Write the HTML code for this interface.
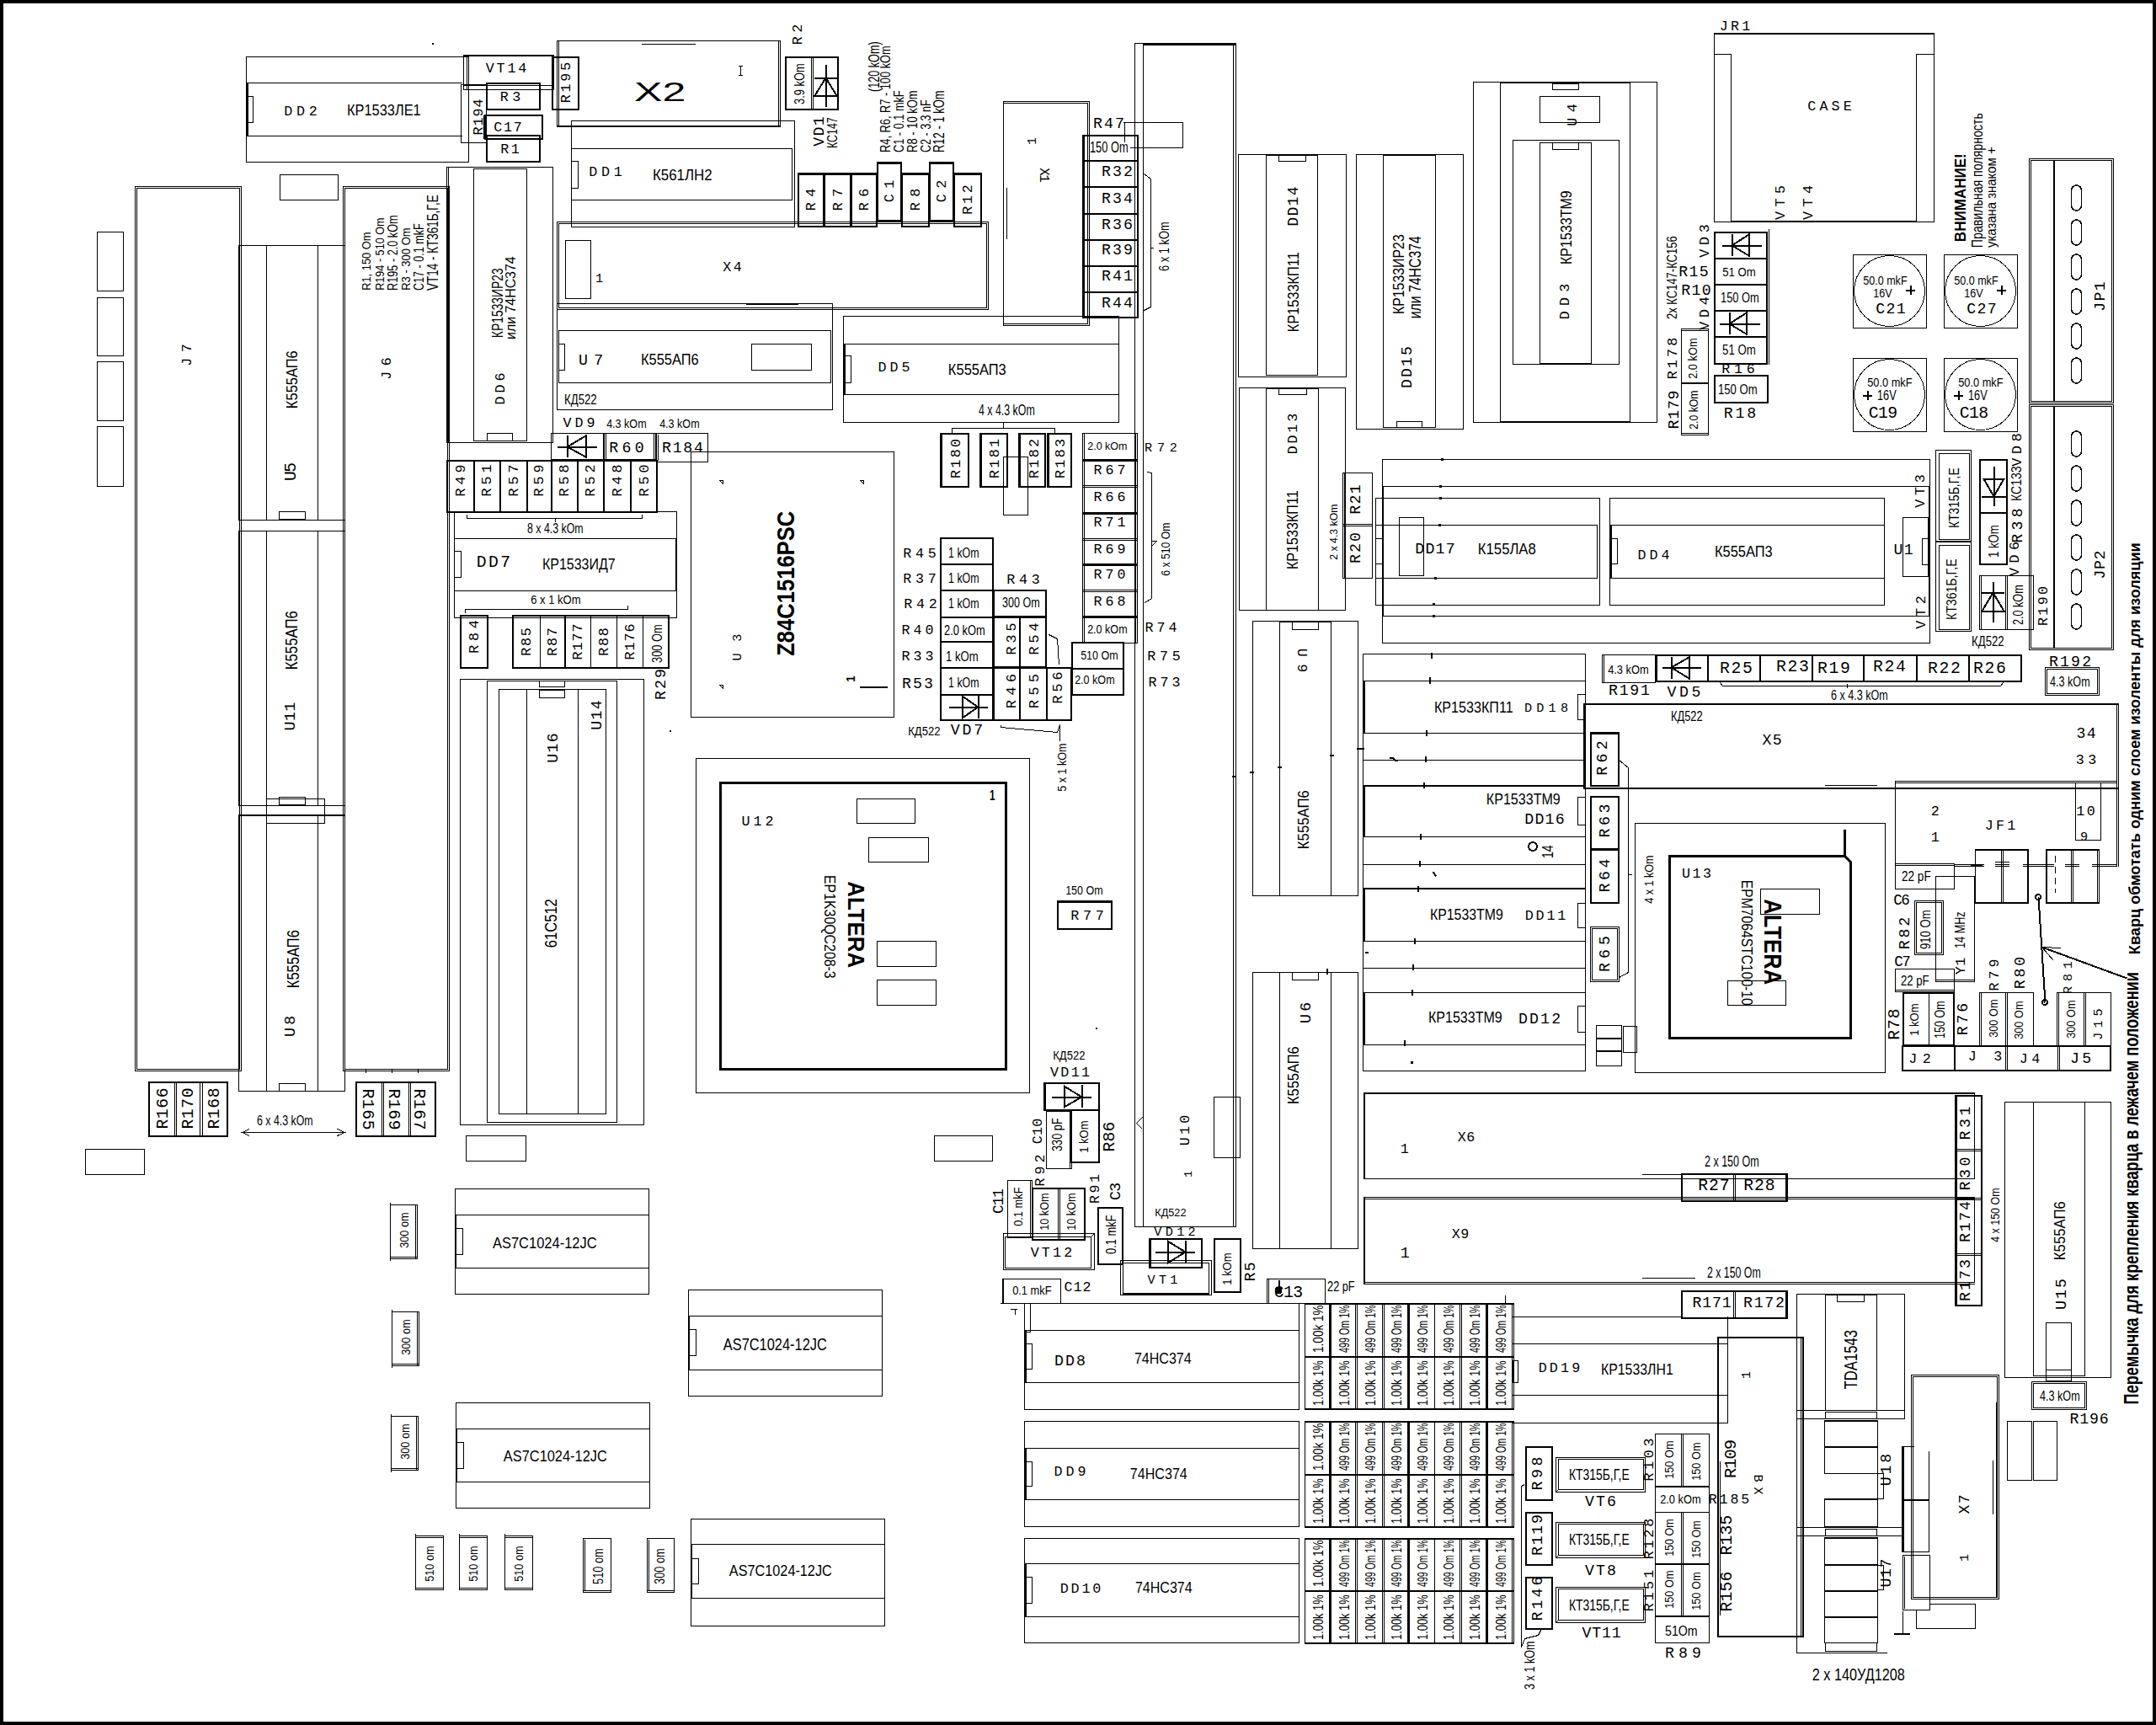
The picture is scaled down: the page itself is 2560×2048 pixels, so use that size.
<!DOCTYPE html>
<html><head><meta charset="utf-8"><style>
html,body{margin:0;padding:0;background:#fff;width:2560px;height:2048px;overflow:hidden}
svg{display:block}
text{fill:#000;stroke:none}
text.s{font-family:"Liberation Sans",sans-serif}
text.m{font-family:"Liberation Mono",monospace}
</style></head><body>
<svg width="2560" height="2048" viewBox="0 0 2560 2048">
<g fill="none" stroke="#000" stroke-width="1" shape-rendering="crispEdges">
<rect x="0" y="0" width="2560" height="4" fill="#000" stroke="none"/>
<rect x="0" y="0" width="4" height="2048" fill="#000" stroke="none"/>
<rect x="292.5" y="67.5" width="264" height="125"/>
<line x1="293" y1="98.5" x2="549" y2="98.5" stroke-width="1"/>
<line x1="293" y1="161.5" x2="549" y2="161.5" stroke-width="1"/>
<line x1="293.5" y1="98" x2="293.5" y2="162" stroke-width="2"/>
<rect x="293.5" y="114.5" width="7" height="31"/>
<text class="m" transform="translate(340,137)" x="-2.73" y="0" font-size="16.72" textLength="39.47" lengthAdjust="spacing">DD2</text>
<text class="s" transform="translate(413,137)" x="-1.05" y="0" font-size="17.47" textLength="87.75" lengthAdjust="spacingAndGlyphs">КР1533ЛЕ1</text>
<rect x="547.5" y="100.5" width="30" height="69"/>
<rect x="513" y="51" width="2" height="2" fill="#000" stroke="none"/>
<rect x="332.5" y="207.5" width="69" height="30"/>
<rect x="160.5" y="221.5" width="126" height="1050"/>
<rect x="162.5" y="223.5" width="122" height="1046"/>
<text class="m" transform="translate(227,432) rotate(-90)" x="-2.81" y="0" font-size="16.72" textLength="26.62" lengthAdjust="spacing">J7</text>
<rect x="407.5" y="221.5" width="126" height="1050"/>
<rect x="409.5" y="223.5" width="122" height="1046"/>
<text class="m" transform="translate(464,448) rotate(-90)" x="-2.81" y="0" font-size="16.72" textLength="26.62" lengthAdjust="spacing">J6</text>
<text class="s" transform="translate(440,344) rotate(-90)" x="-0.87" y="0" font-size="14.56" textLength="69.46" lengthAdjust="spacingAndGlyphs">R1, 150 Om</text>
<text class="s" transform="translate(456,344) rotate(-90)" x="-0.87" y="0" font-size="14.56" textLength="86.46" lengthAdjust="spacingAndGlyphs">R194 - 510 Om</text>
<text class="s" transform="translate(472,344) rotate(-90)" x="-0.96" y="0" font-size="16.01" textLength="89.60" lengthAdjust="spacingAndGlyphs">R195 - 2.0 kOm</text>
<text class="s" transform="translate(487,344) rotate(-90)" x="-0.87" y="0" font-size="14.56" textLength="74.46" lengthAdjust="spacingAndGlyphs">R3 - 300 Om</text>
<text class="s" transform="translate(503,344) rotate(-90)" x="-0.96" y="0" font-size="16.01" textLength="79.60" lengthAdjust="spacingAndGlyphs">C17 - 0.1 mkF</text>
<text class="s" transform="translate(520,344) rotate(-90)" x="-1.05" y="0" font-size="17.47" textLength="113.75" lengthAdjust="spacingAndGlyphs">VT14 - КТ361Б,Г,Е</text>
<rect x="115.5" y="275.5" width="31" height="70"/>
<rect x="115.5" y="353.5" width="31" height="69"/>
<rect x="115.5" y="429.5" width="31" height="70"/>
<rect x="115.5" y="506.5" width="31" height="71"/>
<rect x="283.5" y="291.5" width="126" height="326"/>
<line x1="316.5" y1="292" x2="316.5" y2="617" stroke-width="1"/>
<line x1="377.5" y1="292" x2="377.5" y2="617" stroke-width="1"/>
<rect x="331.5" y="607.5" width="31" height="9"/>
<text class="s" transform="translate(353,484) rotate(-90)" x="-1.14" y="0" font-size="18.92" textLength="68.89" lengthAdjust="spacingAndGlyphs">К555АП6</text>
<text class="m" transform="translate(351,570) rotate(-90)" x="-0.98" y="0" font-size="19.61" textLength="21.96" lengthAdjust="spacing">U5</text>
<line x1="283" y1="630.5" x2="410" y2="630.5" stroke-width="1"/>
<rect x="283.5" y="630.5" width="126" height="326"/>
<line x1="316.5" y1="631" x2="316.5" y2="956" stroke-width="1"/>
<line x1="377.5" y1="631" x2="377.5" y2="956" stroke-width="1"/>
<rect x="331.5" y="946.5" width="31" height="9"/>
<text class="s" transform="translate(353,794) rotate(-90)" x="-1.22" y="0" font-size="20.38" textLength="70.04" lengthAdjust="spacingAndGlyphs">К555АП6</text>
<text class="m" transform="translate(350,866) rotate(-90)" x="-1.46" y="0" font-size="18.24" textLength="33.92" lengthAdjust="spacing">U11</text>
<rect x="316.5" y="948.5" width="69" height="29"/>
<line x1="283" y1="967.5" x2="410" y2="967.5" stroke-width="1"/>
<rect x="283.5" y="968.5" width="126" height="327"/>
<line x1="316.5" y1="969" x2="316.5" y2="1296" stroke-width="1"/>
<line x1="377.5" y1="969" x2="377.5" y2="1296" stroke-width="1"/>
<rect x="331.5" y="1286.5" width="31" height="9"/>
<text class="s" transform="translate(355,1172) rotate(-90)" x="-1.22" y="0" font-size="20.38" textLength="69.04" lengthAdjust="spacingAndGlyphs">К555АП6</text>
<text class="m" transform="translate(350,1229) rotate(-90)" x="-2.11" y="0" font-size="18.24" textLength="25.22" lengthAdjust="spacing">U8</text>
<rect x="176.5" y="1284.5" width="94" height="65"/>
<rect x="177.5" y="1285.5" width="92" height="63"/>
<line x1="207.5" y1="1284" x2="207.5" y2="1350" stroke-width="1"/>
<line x1="209.5" y1="1284" x2="209.5" y2="1350" stroke-width="1"/>
<line x1="237.5" y1="1284" x2="237.5" y2="1350" stroke-width="1"/>
<line x1="240.5" y1="1284" x2="240.5" y2="1350" stroke-width="1"/>
<text class="m" transform="translate(199,1339) rotate(-90)" x="-1.61" y="0" font-size="19.76" textLength="49.22" lengthAdjust="spacing">R166</text>
<text class="m" transform="translate(229,1339) rotate(-90)" x="-1.61" y="0" font-size="19.76" textLength="49.22" lengthAdjust="spacing">R170</text>
<text class="m" transform="translate(260,1339) rotate(-90)" x="-1.61" y="0" font-size="19.76" textLength="49.22" lengthAdjust="spacing">R168</text>
<text class="s" transform="translate(306,1336)" x="-0.96" y="0" font-size="16.01" textLength="66.60" lengthAdjust="spacingAndGlyphs">6 x 4.3 kOm</text>
<line x1="287" y1="1344.5" x2="410" y2="1344.5" stroke-width="1"/>
<polyline points="296.5,1340.5 287.5,1344.5 296.5,1348.5" stroke-width="1"/>
<polyline points="400.5,1340.5 409.5,1344.5 400.5,1348.5" stroke-width="1"/>
<rect x="422.5" y="1284.5" width="95" height="65"/>
<rect x="423.5" y="1285.5" width="93" height="63"/>
<line x1="453.5" y1="1284" x2="453.5" y2="1350" stroke-width="1"/>
<line x1="455.5" y1="1284" x2="455.5" y2="1350" stroke-width="1"/>
<line x1="485.5" y1="1284" x2="485.5" y2="1350" stroke-width="1"/>
<line x1="487.5" y1="1284" x2="487.5" y2="1350" stroke-width="1"/>
<text class="m" transform="translate(431,1294) rotate(90)" x="-1.61" y="0" font-size="19.76" textLength="49.22" lengthAdjust="spacing">R165</text>
<text class="m" transform="translate(462,1294) rotate(90)" x="-1.61" y="0" font-size="19.76" textLength="49.22" lengthAdjust="spacing">R169</text>
<text class="m" transform="translate(492,1294) rotate(90)" x="-1.61" y="0" font-size="19.76" textLength="49.22" lengthAdjust="spacing">R167</text>
<line x1="434.5" y1="1269" x2="434.5" y2="1274" stroke-width="1"/>
<line x1="465.5" y1="1269" x2="465.5" y2="1274" stroke-width="1"/>
<line x1="496.5" y1="1269" x2="496.5" y2="1274" stroke-width="1"/>
<rect x="101.5" y="1364.5" width="70" height="30"/>
<rect x="463.5" y="1430.5" width="32" height="64"/>
<line x1="493.5" y1="1431" x2="493.5" y2="1494" stroke-width="1"/>
<line x1="464" y1="1492.5" x2="495" y2="1492.5" stroke-width="1"/>
<line x1="463.5" y1="1428" x2="463.5" y2="1497" stroke-width="1"/>
<text class="s" transform="translate(485,1481) rotate(-90)" x="-0.87" y="0" font-size="14.56" textLength="42.46" lengthAdjust="spacingAndGlyphs">300 om</text>
<rect x="465.5" y="1557.5" width="32" height="64"/>
<line x1="495.5" y1="1558" x2="495.5" y2="1621" stroke-width="1"/>
<line x1="466" y1="1619.5" x2="497" y2="1619.5" stroke-width="1"/>
<line x1="465.5" y1="1555" x2="465.5" y2="1624" stroke-width="1"/>
<text class="s" transform="translate(487,1608) rotate(-90)" x="-0.87" y="0" font-size="14.56" textLength="42.46" lengthAdjust="spacingAndGlyphs">300 om</text>
<rect x="464.5" y="1681.5" width="32" height="64"/>
<line x1="494.5" y1="1682" x2="494.5" y2="1745" stroke-width="1"/>
<line x1="465" y1="1743.5" x2="496" y2="1743.5" stroke-width="1"/>
<line x1="464.5" y1="1679" x2="464.5" y2="1748" stroke-width="1"/>
<text class="s" transform="translate(486,1732) rotate(-90)" x="-0.87" y="0" font-size="14.56" textLength="42.46" lengthAdjust="spacingAndGlyphs">300 om</text>
<rect x="493.5" y="1823.5" width="33" height="64"/>
<line x1="494" y1="1825.5" x2="526" y2="1825.5" stroke-width="1"/>
<line x1="494" y1="1885.5" x2="526" y2="1885.5" stroke-width="1"/>
<line x1="493.5" y1="1821" x2="493.5" y2="1888" stroke-width="1"/>
<text class="s" transform="translate(515,1877) rotate(-90)" x="-0.87" y="0" font-size="14.56" textLength="42.46" lengthAdjust="spacingAndGlyphs">510 om</text>
<rect x="545.5" y="1823.5" width="33" height="64"/>
<line x1="546" y1="1825.5" x2="578" y2="1825.5" stroke-width="1"/>
<line x1="546" y1="1885.5" x2="578" y2="1885.5" stroke-width="1"/>
<line x1="545.5" y1="1821" x2="545.5" y2="1888" stroke-width="1"/>
<text class="s" transform="translate(567,1877) rotate(-90)" x="-0.87" y="0" font-size="14.56" textLength="42.46" lengthAdjust="spacingAndGlyphs">510 om</text>
<rect x="599.5" y="1823.5" width="33" height="64"/>
<line x1="600" y1="1825.5" x2="632" y2="1825.5" stroke-width="1"/>
<line x1="600" y1="1885.5" x2="632" y2="1885.5" stroke-width="1"/>
<line x1="599.5" y1="1821" x2="599.5" y2="1888" stroke-width="1"/>
<text class="s" transform="translate(621,1877) rotate(-90)" x="-0.87" y="0" font-size="14.56" textLength="42.46" lengthAdjust="spacingAndGlyphs">510 om</text>
<line x1="550" y1="65.5" x2="658" y2="65.5" stroke-width="2"/>
<line x1="550.5" y1="65" x2="550.5" y2="107" stroke-width="1"/>
<line x1="554.5" y1="66" x2="554.5" y2="107" stroke-width="1"/>
<line x1="657.5" y1="65" x2="657.5" y2="107" stroke-width="1"/>
<line x1="550" y1="101.5" x2="658" y2="101.5" stroke-width="1"/>
<line x1="550" y1="106.5" x2="658" y2="106.5" stroke-width="1"/>
<text class="m" transform="translate(579,86)" x="-2.21" y="0" font-size="16.72" textLength="48.41" lengthAdjust="spacing">VT14</text>
<rect x="578.0" y="99.0" width="63" height="31" stroke-width="2"/>
<line x1="578.5" y1="99" x2="578.5" y2="130" stroke-width="1"/>
<text class="m" transform="translate(596,120)" x="-2.31" y="0" font-size="16.72" textLength="24.62" lengthAdjust="spacing">R3</text>
<rect x="576.0" y="137.0" width="68" height="28" stroke-width="2"/>
<line x1="574.5" y1="137" x2="574.5" y2="165" stroke-width="1"/>
<text class="m" transform="translate(588,156)" x="-1.73" y="0" font-size="16.72" textLength="33.47" lengthAdjust="spacing">C17</text>
<rect x="578.0" y="161.0" width="63" height="31" stroke-width="2"/>
<line x1="578.5" y1="161" x2="578.5" y2="192" stroke-width="1"/>
<text class="m" transform="translate(596,182)" x="-1.81" y="0" font-size="16.72" textLength="22.62" lengthAdjust="spacing">R1</text>
<text class="m" transform="translate(573,159) rotate(-90)" x="-1.54" y="0" font-size="16.72" textLength="43.08" lengthAdjust="spacing">R194</text>
<rect x="656.0" y="68.0" width="31" height="62" stroke-width="2"/>
<line x1="656.5" y1="68" x2="656.5" y2="130" stroke-width="1"/>
<text class="m" transform="translate(677,120) rotate(-90)" x="-2.21" y="0" font-size="16.72" textLength="48.41" lengthAdjust="spacing">R195</text>
<rect x="661.5" y="48.5" width="265" height="102"/>
<line x1="663.5" y1="49" x2="663.5" y2="150" stroke-width="1"/>
<line x1="924.5" y1="49" x2="924.5" y2="150" stroke-width="1"/>
<line x1="661" y1="149.5" x2="927" y2="149.5" stroke-width="1"/>
<line x1="762" y1="52.5" x2="826" y2="52.5" stroke-width="1"/>
<text class="s" transform="translate(755,120)" x="-1.92" y="0" font-size="32.02" textLength="61.20" lengthAdjust="spacingAndGlyphs">X2</text>
<line x1="879.5" y1="78" x2="879.5" y2="90" stroke-width="1"/>
<line x1="877" y1="78.5" x2="882" y2="78.5" stroke-width="1"/>
<line x1="877" y1="89.5" x2="882" y2="89.5" stroke-width="1"/>
<rect x="933.0" y="68.0" width="62" height="62" stroke-width="2"/>
<line x1="963.5" y1="67" x2="963.5" y2="131" stroke-width="1"/>
<line x1="965.5" y1="67" x2="965.5" y2="131" stroke-width="1"/>
<text class="s" transform="translate(955,123) rotate(-90)" x="-0.96" y="0" font-size="16.01" textLength="48.60" lengthAdjust="spacingAndGlyphs">3.9 kOm</text>
<line x1="980.5" y1="77" x2="980.5" y2="127" stroke-width="2"/>
<line x1="967" y1="92.5" x2="994" y2="92.5" stroke-width="2"/>
<polygon points="967.5,113.5 993.5,113.5 980.5,92.5" stroke-width="2"/>
<text class="m" transform="translate(952,51) rotate(-90)" x="-2.31" y="0" font-size="16.72" textLength="24.62" lengthAdjust="spacing">R2</text>
<text class="m" transform="translate(978,172) rotate(-90)" x="-1.71" y="0" font-size="18.24" textLength="35.42" lengthAdjust="spacing">VD1</text>
<text class="s" transform="translate(994,175) rotate(-90)" x="-0.96" y="0" font-size="16.01" textLength="36.60" lengthAdjust="spacingAndGlyphs">КС147</text>
<text class="s" transform="translate(1044,108) rotate(-90)" x="-1.05" y="0" font-size="17.47" textLength="59.75" lengthAdjust="spacingAndGlyphs">(120 kOm)</text>
<text class="s" transform="translate(1057,180) rotate(-90)" x="-0.96" y="0" font-size="16.01" textLength="126.60" lengthAdjust="spacingAndGlyphs">R4, R6, R7 - 100 kOm</text>
<text class="s" transform="translate(1073,180) rotate(-90)" x="-0.96" y="0" font-size="16.01" textLength="73.60" lengthAdjust="spacingAndGlyphs">C1 - 0.1 mkF</text>
<text class="s" transform="translate(1089,180) rotate(-90)" x="-0.96" y="0" font-size="16.01" textLength="73.60" lengthAdjust="spacingAndGlyphs">R8 - 10 kOm</text>
<text class="s" transform="translate(1105,180) rotate(-90)" x="-0.96" y="0" font-size="16.01" textLength="62.60" lengthAdjust="spacingAndGlyphs">C2 - 3.3 nF</text>
<text class="s" transform="translate(1121,180) rotate(-90)" x="-1.05" y="0" font-size="17.47" textLength="73.75" lengthAdjust="spacingAndGlyphs">R12 - 1 kOm</text>
<rect x="678.5" y="143.5" width="265" height="126"/>
<line x1="679" y1="176.5" x2="941" y2="176.5" stroke-width="1"/>
<line x1="679" y1="237.5" x2="941" y2="237.5" stroke-width="1"/>
<line x1="940.5" y1="176" x2="940.5" y2="238" stroke-width="1"/>
<rect x="678.5" y="191.5" width="8" height="32"/>
<text class="m" transform="translate(702,209)" x="-2.73" y="0" font-size="16.72" textLength="39.47" lengthAdjust="spacing">DD1</text>
<text class="s" transform="translate(776,214)" x="-1.05" y="0" font-size="17.47" textLength="70.75" lengthAdjust="spacingAndGlyphs">К561ЛН2</text>
<rect x="948.0" y="206.0" width="30" height="63" stroke-width="2"/>
<line x1="949" y1="207.5" x2="977" y2="207.5" stroke-width="1"/>
<text class="m" transform="translate(968.0,247.5) rotate(-90)" x="-2.81" y="0" font-size="16.72" textLength="26.62" lengthAdjust="spacing">R4</text>
<rect x="979.0" y="206.0" width="31" height="63" stroke-width="2"/>
<line x1="980" y1="207.5" x2="1009" y2="207.5" stroke-width="1"/>
<text class="m" transform="translate(999.5,247.5) rotate(-90)" x="-2.81" y="0" font-size="16.72" textLength="26.62" lengthAdjust="spacing">R7</text>
<rect x="1011.0" y="206.0" width="30" height="63" stroke-width="2"/>
<line x1="1012" y1="207.5" x2="1040" y2="207.5" stroke-width="1"/>
<text class="m" transform="translate(1031.0,247.5) rotate(-90)" x="-2.81" y="0" font-size="16.72" textLength="26.62" lengthAdjust="spacing">R6</text>
<rect x="1042.0" y="193.0" width="28" height="69" stroke-width="2"/>
<line x1="1043" y1="194.5" x2="1069" y2="194.5" stroke-width="1"/>
<text class="m" transform="translate(1061.0,237.5) rotate(-90)" x="-2.81" y="0" font-size="16.72" textLength="26.62" lengthAdjust="spacing">C1</text>
<rect x="1071.0" y="206.0" width="32" height="63" stroke-width="2"/>
<line x1="1072" y1="207.5" x2="1102" y2="207.5" stroke-width="1"/>
<text class="m" transform="translate(1092.0,247.5) rotate(-90)" x="-2.81" y="0" font-size="16.72" textLength="26.62" lengthAdjust="spacing">R8</text>
<rect x="1104.0" y="193.0" width="28" height="69" stroke-width="2"/>
<line x1="1105" y1="194.5" x2="1131" y2="194.5" stroke-width="1"/>
<text class="m" transform="translate(1123.0,237.5) rotate(-90)" x="-2.81" y="0" font-size="16.72" textLength="26.62" lengthAdjust="spacing">C2</text>
<rect x="1133.0" y="206.0" width="32" height="63" stroke-width="2"/>
<line x1="1134" y1="207.5" x2="1164" y2="207.5" stroke-width="1"/>
<text class="m" transform="translate(1154.0,252.75) rotate(-90)" x="-2.11" y="0" font-size="16.72" textLength="35.72" lengthAdjust="spacing">R12</text>
<rect x="661.5" y="263.5" width="512" height="104"/>
<rect x="663.5" y="265.5" width="508" height="100"/>
<rect x="671.5" y="285.5" width="30" height="69"/>
<text class="m" transform="translate(708,335)" x="-1.06" y="0" font-size="15.20" textLength="9.12" lengthAdjust="spacing">1</text>
<text class="m" transform="translate(860,322)" x="-1.81" y="0" font-size="16.72" textLength="22.62" lengthAdjust="spacing">X4</text>
<rect x="661.5" y="360.5" width="327" height="126"/>
<rect x="663.5" y="392.5" width="323" height="62"/>
<rect x="663.5" y="408.5" width="7" height="31"/>
<rect x="892.5" y="408.5" width="71" height="31"/>
<line x1="886" y1="360.5" x2="948" y2="360.5" stroke-width="2"/>
<text class="m" transform="translate(690,433)" x="-3.11" y="0" font-size="18.24" textLength="29.22" lengthAdjust="spacing">U7</text>
<text class="s" transform="translate(762,433)" x="-1.05" y="0" font-size="17.47" textLength="68.75" lengthAdjust="spacingAndGlyphs">К555АП6</text>
<text class="s" transform="translate(671,480)" x="-0.96" y="0" font-size="16.01" textLength="38.60" lengthAdjust="spacingAndGlyphs">КД522</text>
<rect x="530.5" y="198.5" width="126" height="327"/>
<line x1="532.5" y1="199" x2="532.5" y2="525" stroke-width="1"/>
<rect x="562.5" y="200.5" width="63" height="323"/>
<rect x="578.5" y="514.5" width="30" height="9"/>
<text class="s" transform="translate(597,400) rotate(-90)" x="-1.14" y="0" font-size="18.92" textLength="82.89" lengthAdjust="spacingAndGlyphs">КР1533ИР23</text>
<text class="s" transform="translate(612,402) rotate(-90)" x="-0.96" y="0" font-size="16.01" textLength="98.60" lengthAdjust="spacingAndGlyphs">или 74НС374</text>
<text class="m" transform="translate(599,478) rotate(-90)" x="-2.48" y="0" font-size="16.72" textLength="37.97" lengthAdjust="spacing">DD6</text>
<text class="m" transform="translate(671,507)" x="-2.48" y="0" font-size="16.72" textLength="37.97" lengthAdjust="spacing">VD9</text>
<text class="s" transform="translate(721,508)" x="-0.87" y="0" font-size="14.56" textLength="47.46" lengthAdjust="spacingAndGlyphs">4.3 kOm</text>
<text class="s" transform="translate(784,508)" x="-0.87" y="0" font-size="14.56" textLength="47.46" lengthAdjust="spacingAndGlyphs">4.3 kOm</text>
<rect x="654.5" y="514.5" width="62" height="31"/>
<line x1="662" y1="530.5" x2="709" y2="530.5" stroke-width="2"/>
<line x1="673.5" y1="517" x2="673.5" y2="543" stroke-width="2"/>
<polygon points="695.5,517.5 695.5,542.5 673.5,530.5" stroke-width="2"/>
<rect x="717.5" y="514.5" width="61" height="31"/>
<line x1="719.5" y1="514" x2="719.5" y2="546" stroke-width="1"/>
<line x1="776.5" y1="514" x2="776.5" y2="546" stroke-width="1"/>
<text class="m" transform="translate(726,537)" x="-2.71" y="0" font-size="18.24" textLength="41.42" lengthAdjust="spacing">R60</text>
<rect x="779.5" y="514.5" width="61" height="34"/>
<line x1="781.5" y1="516" x2="781.5" y2="547" stroke-width="1"/>
<text class="m" transform="translate(788,537)" x="-1.91" y="0" font-size="18.24" textLength="48.81" lengthAdjust="spacing">R184</text>
<rect x="531.0" y="547.0" width="249" height="61" stroke-width="2"/>
<line x1="562.5" y1="546" x2="562.5" y2="609" stroke-width="2"/>
<line x1="593.5" y1="546" x2="593.5" y2="609" stroke-width="2"/>
<line x1="625.5" y1="546" x2="625.5" y2="609" stroke-width="2"/>
<line x1="654.5" y1="546" x2="654.5" y2="609" stroke-width="2"/>
<line x1="685.5" y1="546" x2="685.5" y2="609" stroke-width="2"/>
<line x1="716.5" y1="546" x2="716.5" y2="609" stroke-width="2"/>
<line x1="748.5" y1="546" x2="748.5" y2="609" stroke-width="2"/>
<text class="m" transform="translate(551.5,587) rotate(-90)" x="-2.48" y="0" font-size="16.72" textLength="37.97" lengthAdjust="spacing">R49</text>
<text class="m" transform="translate(583.0,587) rotate(-90)" x="-2.48" y="0" font-size="16.72" textLength="37.97" lengthAdjust="spacing">R51</text>
<text class="m" transform="translate(614.5,587) rotate(-90)" x="-2.48" y="0" font-size="16.72" textLength="37.97" lengthAdjust="spacing">R57</text>
<text class="m" transform="translate(645.0,587) rotate(-90)" x="-2.48" y="0" font-size="16.72" textLength="37.97" lengthAdjust="spacing">R59</text>
<text class="m" transform="translate(675.0,587) rotate(-90)" x="-2.48" y="0" font-size="16.72" textLength="37.97" lengthAdjust="spacing">R58</text>
<text class="m" transform="translate(706.0,587) rotate(-90)" x="-2.48" y="0" font-size="16.72" textLength="37.97" lengthAdjust="spacing">R52</text>
<text class="m" transform="translate(737.5,587) rotate(-90)" x="-2.48" y="0" font-size="16.72" textLength="37.97" lengthAdjust="spacing">R48</text>
<text class="m" transform="translate(769.5,587) rotate(-90)" x="-2.48" y="0" font-size="16.72" textLength="37.97" lengthAdjust="spacing">R50</text>
<line x1="554" y1="615.5" x2="763" y2="615.5" stroke-width="1"/>
<line x1="554.5" y1="611" x2="554.5" y2="616" stroke-width="1"/>
<line x1="762.5" y1="611" x2="762.5" y2="616" stroke-width="1"/>
<line x1="659.5" y1="615" x2="659.5" y2="620" stroke-width="1"/>
<text class="s" transform="translate(627,633)" x="-0.96" y="0" font-size="16.01" textLength="66.60" lengthAdjust="spacingAndGlyphs">8 x 4.3 kOm</text>
<rect x="539.5" y="607.5" width="264" height="126"/>
<rect x="539.5" y="639.5" width="263" height="62"/>
<rect x="539.5" y="654.5" width="8" height="31"/>
<text class="m" transform="translate(568,673)" x="-2.18" y="0" font-size="19.76" textLength="40.37" lengthAdjust="spacing">DD7</text>
<text class="s" transform="translate(645,676)" x="-1.05" y="0" font-size="17.47" textLength="86.75" lengthAdjust="spacingAndGlyphs">КР1533ИД7</text>
<text class="s" transform="translate(631,717)" x="-0.87" y="0" font-size="14.56" textLength="59.46" lengthAdjust="spacingAndGlyphs">6 x 1 kOm</text>
<line x1="552" y1="723.5" x2="746" y2="723.5" stroke-width="1"/>
<line x1="552.5" y1="723" x2="552.5" y2="728" stroke-width="1"/>
<line x1="745.5" y1="719" x2="745.5" y2="724" stroke-width="1"/>
<rect x="547.0" y="731.0" width="32" height="62" stroke-width="2"/>
<text class="m" transform="translate(568,773) rotate(-90)" x="-2.73" y="0" font-size="16.72" textLength="39.47" lengthAdjust="spacing">R84</text>
<rect x="609.0" y="731.0" width="185" height="62" stroke-width="2"/>
<line x1="641.5" y1="730" x2="641.5" y2="794" stroke-width="1"/>
<line x1="670.5" y1="730" x2="670.5" y2="794" stroke-width="2"/>
<line x1="701.5" y1="730" x2="701.5" y2="794" stroke-width="1"/>
<line x1="732.5" y1="730" x2="732.5" y2="794" stroke-width="1"/>
<line x1="763.5" y1="730" x2="763.5" y2="794" stroke-width="1"/>
<text class="m" transform="translate(630.0,777.0) rotate(-90)" x="-1.73" y="0" font-size="16.72" textLength="33.47" lengthAdjust="spacing">R85</text>
<text class="m" transform="translate(661.0,777.0) rotate(-90)" x="-1.73" y="0" font-size="16.72" textLength="33.47" lengthAdjust="spacing">R87</text>
<text class="m" transform="translate(691.0,782.0) rotate(-90)" x="-1.54" y="0" font-size="16.72" textLength="43.08" lengthAdjust="spacing">R177</text>
<text class="m" transform="translate(722.0,777.0) rotate(-90)" x="-1.73" y="0" font-size="16.72" textLength="33.47" lengthAdjust="spacing">R88</text>
<text class="m" transform="translate(753.0,782.0) rotate(-90)" x="-1.54" y="0" font-size="16.72" textLength="43.08" lengthAdjust="spacing">R176</text>
<text class="s" transform="translate(786,786) rotate(-90)" x="-0.96" y="0" font-size="16.01" textLength="45.60" lengthAdjust="spacingAndGlyphs">300 Om</text>
<text class="m" transform="translate(790,829) rotate(-90)" x="-1.96" y="0" font-size="18.24" textLength="36.92" lengthAdjust="spacing">R29</text>
<rect x="546.5" y="806.5" width="218" height="529"/>
<rect x="578.5" y="808.5" width="154" height="524"/>
<rect x="592.5" y="818.5" width="127" height="504"/>
<line x1="625.5" y1="818" x2="625.5" y2="1323" stroke-width="1"/>
<line x1="686.5" y1="818" x2="686.5" y2="1323" stroke-width="1"/>
<rect x="640.5" y="808.5" width="30" height="7"/>
<rect x="640.5" y="819.5" width="30" height="9"/>
<line x1="625" y1="818.5" x2="720" y2="818.5" stroke-width="1"/>
<text class="m" transform="translate(714,865) rotate(-90)" x="-1.71" y="0" font-size="18.24" textLength="35.42" lengthAdjust="spacing">U14</text>
<text class="m" transform="translate(662,904) rotate(-90)" x="-1.71" y="0" font-size="18.24" textLength="35.42" lengthAdjust="spacing">U16</text>
<text class="s" transform="translate(661,1124) rotate(-90)" x="-1.22" y="0" font-size="20.38" textLength="58.04" lengthAdjust="spacingAndGlyphs">61С512</text>
<rect x="795" y="867" width="2" height="2" fill="#000" stroke="none"/>
<rect x="820.5" y="536.5" width="241" height="315"/>
<text class="s" transform="translate(943,777) rotate(-90)" x="-1.75" y="0" font-size="29.11" textLength="171.91" lengthAdjust="spacingAndGlyphs" font-weight="bold">Z84C1516PSC</text>
<text class="m" transform="translate(880,780) rotate(-90)" x="-4.51" y="0" font-size="15.20" textLength="32.02" lengthAdjust="spacing">U3</text>
<polygon points="854.5,570.5 858.5,570.5 858.5,574.5" stroke-width="1"/>
<polygon points="1021.5,570.5 1025.5,570.5 1025.5,574.5" stroke-width="1"/>
<polygon points="854.5,813.5 858.5,813.5 858.5,817.5" stroke-width="1"/>
<line x1="1021" y1="815.5" x2="1054" y2="815.5" stroke-width="2"/>
<text class="s" transform="translate(1015,809) rotate(-90)" x="-0.87" y="0" font-size="14.56" textLength="7.46" lengthAdjust="spacingAndGlyphs" font-weight="bold">1</text>
<rect x="1117.0" y="515.0" width="33" height="63" stroke-width="2"/>
<line x1="1118.5" y1="516" x2="1118.5" y2="577" stroke-width="1"/>
<rect x="1164.0" y="515.0" width="32" height="63" stroke-width="2"/>
<line x1="1165.5" y1="516" x2="1165.5" y2="577" stroke-width="1"/>
<rect x="1210.0" y="515.0" width="31" height="63" stroke-width="2"/>
<line x1="1211.5" y1="516" x2="1211.5" y2="577" stroke-width="1"/>
<rect x="1244.0" y="515.0" width="28" height="63" stroke-width="2"/>
<line x1="1245.5" y1="516" x2="1245.5" y2="577" stroke-width="1"/>
<text class="m" transform="translate(1140,566) rotate(-90)" x="-2.04" y="0" font-size="16.72" textLength="47.08" lengthAdjust="spacing">R180</text>
<text class="m" transform="translate(1186,566) rotate(-90)" x="-2.04" y="0" font-size="16.72" textLength="47.08" lengthAdjust="spacing">R181</text>
<text class="m" transform="translate(1233,566) rotate(-90)" x="-2.04" y="0" font-size="16.72" textLength="47.08" lengthAdjust="spacing">R182</text>
<text class="m" transform="translate(1264,566) rotate(-90)" x="-2.04" y="0" font-size="16.72" textLength="47.08" lengthAdjust="spacing">R183</text>
<line x1="1130" y1="508.5" x2="1253" y2="508.5" stroke-width="1"/>
<line x1="1130.5" y1="508" x2="1130.5" y2="515" stroke-width="1"/>
<line x1="1252.5" y1="508" x2="1252.5" y2="515" stroke-width="1"/>
<line x1="1191.5" y1="502" x2="1191.5" y2="509" stroke-width="1"/>
<text class="s" transform="translate(1163,493)" x="-1.05" y="0" font-size="17.47" textLength="66.75" lengthAdjust="spacingAndGlyphs">4 x 4.3 kOm</text>
<rect x="1191.5" y="542.5" width="29" height="69"/>
<rect x="1117.0" y="639.0" width="62" height="216" stroke-width="2"/>
<line x1="1116" y1="669.5" x2="1180" y2="669.5" stroke-width="2"/>
<line x1="1116" y1="700.5" x2="1180" y2="700.5" stroke-width="2"/>
<line x1="1116" y1="732.5" x2="1180" y2="732.5" stroke-width="2"/>
<line x1="1116" y1="761.5" x2="1180" y2="761.5" stroke-width="2"/>
<line x1="1116" y1="792.5" x2="1180" y2="792.5" stroke-width="2"/>
<line x1="1116" y1="824.5" x2="1180" y2="824.5" stroke-width="2"/>
<text class="m" transform="translate(1075,662)" x="-2.73" y="0" font-size="16.72" textLength="39.47" lengthAdjust="spacing">R45</text>
<text class="m" transform="translate(1075,692)" x="-2.73" y="0" font-size="16.72" textLength="39.47" lengthAdjust="spacing">R37</text>
<text class="m" transform="translate(1076,722)" x="-2.73" y="0" font-size="16.72" textLength="39.47" lengthAdjust="spacing">R42</text>
<text class="m" transform="translate(1073,753)" x="-2.48" y="0" font-size="16.72" textLength="37.97" lengthAdjust="spacing">R40</text>
<text class="m" transform="translate(1073,784)" x="-2.48" y="0" font-size="16.72" textLength="37.97" lengthAdjust="spacing">R33</text>
<text class="m" transform="translate(1073,817)" x="-1.96" y="0" font-size="18.24" textLength="36.92" lengthAdjust="spacing">R53</text>
<text class="s" transform="translate(1127,662)" x="-0.96" y="0" font-size="16.01" textLength="36.60" lengthAdjust="spacingAndGlyphs">1 kOm</text>
<text class="s" transform="translate(1127,692)" x="-0.96" y="0" font-size="16.01" textLength="36.60" lengthAdjust="spacingAndGlyphs">1 kOm</text>
<text class="s" transform="translate(1127,722)" x="-0.96" y="0" font-size="16.01" textLength="36.60" lengthAdjust="spacingAndGlyphs">1 kOm</text>
<text class="s" transform="translate(1122,754)" x="-0.96" y="0" font-size="16.01" textLength="48.60" lengthAdjust="spacingAndGlyphs">2.0 kOm</text>
<text class="s" transform="translate(1124,785)" x="-0.96" y="0" font-size="16.01" textLength="38.60" lengthAdjust="spacingAndGlyphs">1 kOm</text>
<text class="s" transform="translate(1127,816)" x="-0.96" y="0" font-size="16.01" textLength="36.60" lengthAdjust="spacingAndGlyphs">1 kOm</text>
<text class="m" transform="translate(1198,693)" x="-2.73" y="0" font-size="16.72" textLength="39.47" lengthAdjust="spacing">R43</text>
<rect x="1180.0" y="701.0" width="62" height="31" stroke-width="2"/>
<text class="s" transform="translate(1191,721)" x="-0.96" y="0" font-size="16.01" textLength="44.60" lengthAdjust="spacingAndGlyphs">300 Om</text>
<rect x="1180.0" y="733.0" width="62" height="59" stroke-width="2"/>
<line x1="1210.5" y1="732" x2="1210.5" y2="793" stroke-width="2"/>
<text class="m" transform="translate(1206,775) rotate(-90)" x="-2.48" y="0" font-size="16.72" textLength="37.97" lengthAdjust="spacing">R35</text>
<text class="m" transform="translate(1233,775) rotate(-90)" x="-2.48" y="0" font-size="16.72" textLength="37.97" lengthAdjust="spacing">R54</text>
<rect x="1180.0" y="793.0" width="92" height="62" stroke-width="2"/>
<line x1="1210.5" y1="792" x2="1210.5" y2="856" stroke-width="2"/>
<line x1="1242.5" y1="792" x2="1242.5" y2="856" stroke-width="2"/>
<text class="m" transform="translate(1206,838) rotate(-90)" x="-2.98" y="0" font-size="16.72" textLength="40.97" lengthAdjust="spacing">R46</text>
<text class="m" transform="translate(1233,838) rotate(-90)" x="-2.98" y="0" font-size="16.72" textLength="40.97" lengthAdjust="spacing">R55</text>
<text class="m" transform="translate(1261,833) rotate(-90)" x="-2.48" y="0" font-size="16.72" textLength="37.97" lengthAdjust="spacing">R56</text>
<line x1="1127" y1="839.5" x2="1173" y2="839.5" stroke-width="2"/>
<line x1="1161.5" y1="826" x2="1161.5" y2="853" stroke-width="2"/>
<polygon points="1142.5,826.5 1142.5,852.5 1161.5,839.5" stroke-width="2"/>
<text class="s" transform="translate(1079,873)" x="-0.87" y="0" font-size="14.56" textLength="38.46" lengthAdjust="spacingAndGlyphs">КД522</text>
<text class="m" transform="translate(1131,872)" x="-2.21" y="0" font-size="18.24" textLength="38.42" lengthAdjust="spacing">VD7</text>
<polyline points="1188.5,860.5 1188.5,863.5 1255.5,869.5 1258.5,860.5" stroke-width="1"/>
<line x1="1258.5" y1="860" x2="1258.5" y2="880" stroke-width="1"/>
<text class="s" transform="translate(1266,939) rotate(-90)" x="-0.87" y="0" font-size="14.56" textLength="57.46" lengthAdjust="spacingAndGlyphs">5 x 1 kOm</text>
<polyline points="1245.5,753.5 1255.5,758.5 1257.5,789.5" stroke-width="1"/>
<rect x="826.5" y="900.5" width="396" height="397"/>
<rect x="855.5" y="929.5" width="339" height="340" stroke-width="3"/>
<rect x="1017.5" y="948.5" width="69" height="29"/>
<rect x="1031.5" y="994.5" width="71" height="29"/>
<rect x="1041.5" y="1117.5" width="70" height="30"/>
<rect x="1041.5" y="1163.5" width="70" height="30"/>
<text class="m" transform="translate(883,980)" x="-2.48" y="0" font-size="16.72" textLength="37.97" lengthAdjust="spacing">U12</text>
<text class="s" transform="translate(1176,950)" x="-0.96" y="0" font-size="16.01" textLength="6.60" lengthAdjust="spacingAndGlyphs" font-weight="bold">1</text>
<text class="s" transform="translate(1007,1048) rotate(90)" x="-1.66" y="0" font-size="27.66" textLength="102.77" lengthAdjust="spacingAndGlyphs" font-weight="bold">ALTERA</text>
<text class="s" transform="translate(979,1040) rotate(90)" x="-1.05" y="0" font-size="17.47" textLength="122.75" lengthAdjust="spacingAndGlyphs">EP1K30QC208-3</text>
<rect x="540.5" y="1411.5" width="230" height="125"/>
<line x1="541" y1="1442.5" x2="771" y2="1442.5" stroke-width="1"/>
<line x1="541" y1="1505.5" x2="771" y2="1505.5" stroke-width="1"/>
<line x1="541.5" y1="1442" x2="541.5" y2="1506" stroke-width="1"/>
<rect x="541.5" y="1458.5" width="8" height="31"/>
<text class="s" transform="translate(586,1482)" x="-1.05" y="0" font-size="17.47" textLength="123.75" lengthAdjust="spacingAndGlyphs">AS7C1024-12JC</text>
<rect x="541.5" y="1665.5" width="230" height="125"/>
<line x1="542" y1="1696.5" x2="772" y2="1696.5" stroke-width="1"/>
<line x1="542" y1="1759.5" x2="772" y2="1759.5" stroke-width="1"/>
<line x1="542.5" y1="1696" x2="542.5" y2="1760" stroke-width="1"/>
<rect x="542.5" y="1712.5" width="8" height="31"/>
<text class="s" transform="translate(599,1735)" x="-1.14" y="0" font-size="18.92" textLength="122.89" lengthAdjust="spacingAndGlyphs">AS7C1024-12JC</text>
<rect x="817.5" y="1531.5" width="230" height="126"/>
<line x1="818" y1="1562.5" x2="1048" y2="1562.5" stroke-width="1"/>
<line x1="818" y1="1626.5" x2="1048" y2="1626.5" stroke-width="1"/>
<line x1="818.5" y1="1562" x2="818.5" y2="1627" stroke-width="1"/>
<rect x="818.5" y="1578.5" width="8" height="31"/>
<text class="s" transform="translate(860,1603)" x="-1.22" y="0" font-size="20.38" textLength="123.04" lengthAdjust="spacingAndGlyphs">AS7C1024-12JC</text>
<rect x="820.5" y="1803.5" width="230" height="127"/>
<line x1="821" y1="1833.5" x2="1051" y2="1833.5" stroke-width="1"/>
<line x1="821" y1="1897.5" x2="1051" y2="1897.5" stroke-width="1"/>
<line x1="821.5" y1="1833" x2="821.5" y2="1898" stroke-width="1"/>
<rect x="821.5" y="1850.5" width="8" height="30"/>
<text class="s" transform="translate(867,1871)" x="-1.14" y="0" font-size="18.92" textLength="121.89" lengthAdjust="spacingAndGlyphs">AS7C1024-12JC</text>
<rect x="692.5" y="1826.5" width="33" height="64"/>
<line x1="694.5" y1="1828" x2="694.5" y2="1889" stroke-width="1"/>
<line x1="693" y1="1888.5" x2="725" y2="1888.5" stroke-width="1"/>
<text class="s" transform="translate(716,1880) rotate(-90)" x="-0.96" y="0" font-size="16.01" textLength="42.60" lengthAdjust="spacingAndGlyphs">510 om</text>
<rect x="768.5" y="1826.5" width="32" height="64"/>
<line x1="770.5" y1="1828" x2="770.5" y2="1889" stroke-width="1"/>
<line x1="769" y1="1888.5" x2="800" y2="1888.5" stroke-width="1"/>
<text class="s" transform="translate(789,1880) rotate(-90)" x="-0.96" y="0" font-size="16.01" textLength="42.60" lengthAdjust="spacingAndGlyphs">300 om</text>
<rect x="553.5" y="1348.5" width="71" height="30"/>
<rect x="1109.5" y="1348.5" width="69" height="30"/>
<text class="s" transform="translate(1251,1258)" x="-0.87" y="0" font-size="14.56" textLength="38.46" lengthAdjust="spacingAndGlyphs">КД522</text>
<text class="m" transform="translate(1249,1278)" x="-2.04" y="0" font-size="16.72" textLength="47.08" lengthAdjust="spacing">VD11</text>
<rect x="1240.0" y="1286.0" width="65" height="32" stroke-width="2"/>
<line x1="1241.5" y1="1286" x2="1241.5" y2="1319" stroke-width="1"/>
<line x1="1249" y1="1302.5" x2="1296" y2="1302.5" stroke-width="2"/>
<line x1="1284.5" y1="1288" x2="1284.5" y2="1315" stroke-width="2"/>
<polygon points="1263.5,1289.5 1263.5,1314.5 1284.5,1302.5" stroke-width="2"/>
<rect x="1242.5" y="1319.5" width="30" height="68"/>
<line x1="1270.5" y1="1319" x2="1270.5" y2="1388" stroke-width="1"/>
<text class="s" transform="translate(1261,1366) rotate(-90)" x="-0.96" y="0" font-size="16.01" textLength="39.60" lengthAdjust="spacingAndGlyphs">330 pF</text>
<rect x="1272.0" y="1318.0" width="33" height="62" stroke-width="2"/>
<line x1="1273" y1="1318.5" x2="1304" y2="1318.5" stroke-width="1"/>
<text class="s" transform="translate(1292,1368) rotate(-90)" x="-0.87" y="0" font-size="14.56" textLength="38.46" lengthAdjust="spacingAndGlyphs">1 kOm</text>
<text class="m" transform="translate(1237,1357) rotate(-90)" x="-1.23" y="0" font-size="16.72" textLength="30.47" lengthAdjust="spacing">C10</text>
<text class="m" transform="translate(1323,1366) rotate(-90)" x="-1.43" y="0" font-size="19.76" textLength="35.87" lengthAdjust="spacing">R86</text>
<text class="m" transform="translate(1240,1406) rotate(-90)" x="-2.48" y="0" font-size="16.72" textLength="37.97" lengthAdjust="spacing">R92</text>
<text class="m" transform="translate(1305,1427) rotate(-90)" x="-1.98" y="0" font-size="16.72" textLength="34.97" lengthAdjust="spacing">R91</text>
<text class="m" transform="translate(1330,1424) rotate(-90)" x="-1.11" y="0" font-size="18.24" textLength="21.22" lengthAdjust="spacing">C3</text>
<text class="m" transform="translate(1191,1440) rotate(-90)" x="-0.89" y="0" font-size="17.72" textLength="29.77" lengthAdjust="spacing">C11</text>
<rect x="1196.5" y="1401.5" width="29" height="68"/>
<line x1="1223.5" y1="1402" x2="1223.5" y2="1469" stroke-width="1"/>
<text class="s" transform="translate(1214,1455) rotate(-90)" x="-0.87" y="0" font-size="14.56" textLength="46.46" lengthAdjust="spacingAndGlyphs">0.1 mkF</text>
<rect x="1226.0" y="1411.0" width="62" height="61" stroke-width="2"/>
<line x1="1256.5" y1="1410" x2="1256.5" y2="1473" stroke-width="1"/>
<line x1="1258.5" y1="1410" x2="1258.5" y2="1473" stroke-width="1"/>
<line x1="1226" y1="1468.5" x2="1288" y2="1468.5" stroke-width="1"/>
<text class="s" transform="translate(1245,1460) rotate(-90)" x="-0.87" y="0" font-size="14.56" textLength="44.46" lengthAdjust="spacingAndGlyphs">10 kOm</text>
<text class="s" transform="translate(1277,1460) rotate(-90)" x="-0.87" y="0" font-size="14.56" textLength="44.46" lengthAdjust="spacingAndGlyphs">10 kOm</text>
<rect x="1304.0" y="1434.0" width="29" height="67" stroke-width="2"/>
<text class="s" transform="translate(1325,1488) rotate(-90)" x="-0.96" y="0" font-size="16.01" textLength="46.60" lengthAdjust="spacingAndGlyphs">0.1 mkF</text>
<rect x="1191.5" y="1464.5" width="108" height="43"/>
<rect x="1193.5" y="1468.5" width="102" height="37"/>
<line x1="1295.5" y1="1468.5" x2="1299.5" y2="1464.5" stroke-width="1"/>
<text class="m" transform="translate(1226,1492)" x="-2.37" y="0" font-size="16.72" textLength="49.75" lengthAdjust="spacing">VT12</text>
<rect x="1190.5" y="1518.5" width="69" height="29"/>
<line x1="1190.5" y1="1518" x2="1190.5" y2="1548" stroke-width="2"/>
<text class="s" transform="translate(1203,1537)" x="-0.87" y="0" font-size="14.56" textLength="46.46" lengthAdjust="spacingAndGlyphs">0.1 mkF</text>
<text class="m" transform="translate(1265,1533)" x="-1.48" y="0" font-size="16.72" textLength="31.97" lengthAdjust="spacing">C12</text>
<rect x="1347.5" y="51.5" width="120" height="1405"/>
<line x1="1357.5" y1="52" x2="1357.5" y2="1456" stroke-width="1"/>
<line x1="1464.5" y1="52" x2="1464.5" y2="1456" stroke-width="1"/>
<polyline points="1356.5,1326.5 1349.5,1333.5 1356.5,1340.5" stroke-width="1"/>
<rect x="1441.5" y="1302.5" width="31" height="72"/>
<text class="m" transform="translate(1412,1358) rotate(-90)" x="-2.23" y="0" font-size="16.72" textLength="36.47" lengthAdjust="spacing">U10</text>
<text class="m" transform="translate(1415,1397) rotate(-90)" x="-0.96" y="0" font-size="13.68" textLength="8.21" lengthAdjust="spacing">1</text>
<text class="s" transform="translate(1372,1444)" x="-0.79" y="0" font-size="13.10" textLength="37.31" lengthAdjust="spacingAndGlyphs">КД522</text>
<text class="m" transform="translate(1373,1467)" x="-2.67" y="0" font-size="15.20" textLength="49.35" lengthAdjust="spacing">VD12</text>
<rect x="1365.0" y="1471.0" width="62" height="34" stroke-width="2"/>
<line x1="1366.5" y1="1472" x2="1366.5" y2="1504" stroke-width="1"/>
<line x1="1372" y1="1486.5" x2="1419" y2="1486.5" stroke-width="2"/>
<line x1="1407.5" y1="1473" x2="1407.5" y2="1500" stroke-width="2"/>
<polygon points="1386.5,1473.5 1386.5,1499.5 1407.5,1486.5" stroke-width="2"/>
<rect x="1330.5" y="1496.5" width="108" height="41"/>
<rect x="1333.5" y="1499.5" width="102" height="36"/>
<line x1="1333" y1="1535.5" x2="1436" y2="1535.5" stroke-width="2"/>
<text class="m" transform="translate(1365,1524)" x="-2.51" y="0" font-size="15.20" textLength="36.01" lengthAdjust="spacing">VT1</text>
<rect x="1442.0" y="1471.0" width="31" height="63" stroke-width="2"/>
<text class="s" transform="translate(1462,1525) rotate(-90)" x="-0.87" y="0" font-size="14.56" textLength="38.46" lengthAdjust="spacingAndGlyphs">1 kOm</text>
<text class="m" transform="translate(1490,1520) rotate(-90)" x="-1.61" y="0" font-size="18.24" textLength="23.22" lengthAdjust="spacing">R5</text>
<line x1="1188" y1="1547.5" x2="1574" y2="1547.5" stroke-width="1"/>
<rect x="1216.5" y="1547.5" width="326" height="126"/>
<line x1="1217" y1="1579.5" x2="1543" y2="1579.5" stroke-width="1"/>
<line x1="1217" y1="1641.5" x2="1543" y2="1641.5" stroke-width="1"/>
<line x1="1217.5" y1="1579" x2="1217.5" y2="1642" stroke-width="2"/>
<rect x="1217.5" y="1595.5" width="8" height="30"/>
<rect x="1216.5" y="1547.5" width="7" height="34"/>
<text class="m" transform="translate(1254,1621)" x="-1.96" y="0" font-size="18.24" textLength="36.92" lengthAdjust="spacing">DD8</text>
<text class="s" transform="translate(1348,1619)" x="-1.05" y="0" font-size="17.47" textLength="67.75" lengthAdjust="spacingAndGlyphs">74HC374</text>
<rect x="1216.5" y="1687.5" width="326" height="125"/>
<line x1="1217" y1="1719.5" x2="1543" y2="1719.5" stroke-width="1"/>
<line x1="1217" y1="1780.5" x2="1543" y2="1780.5" stroke-width="1"/>
<line x1="1217.5" y1="1719" x2="1217.5" y2="1781" stroke-width="2"/>
<rect x="1217.5" y="1735.5" width="8" height="29"/>
<text class="m" transform="translate(1254,1752)" x="-2.48" y="0" font-size="16.72" textLength="37.97" lengthAdjust="spacing">DD9</text>
<text class="s" transform="translate(1343,1756)" x="-1.14" y="0" font-size="18.92" textLength="67.89" lengthAdjust="spacingAndGlyphs">74HC374</text>
<rect x="1216.5" y="1826.5" width="326" height="124"/>
<line x1="1217" y1="1856.5" x2="1543" y2="1856.5" stroke-width="1"/>
<line x1="1217" y1="1919.5" x2="1543" y2="1919.5" stroke-width="1"/>
<line x1="1217.5" y1="1856" x2="1217.5" y2="1920" stroke-width="2"/>
<rect x="1217.5" y="1872.5" width="8" height="31"/>
<text class="m" transform="translate(1261,1891)" x="-2.21" y="0" font-size="16.72" textLength="48.41" lengthAdjust="spacing">DD10</text>
<text class="s" transform="translate(1349,1891)" x="-1.05" y="0" font-size="17.47" textLength="67.75" lengthAdjust="spacingAndGlyphs">74HC374</text>
<line x1="1200" y1="1554.5" x2="1208" y2="1554.5" stroke-width="1"/>
<line x1="1205.5" y1="1554" x2="1205.5" y2="1561" stroke-width="1"/>
<line x1="1549.5" y1="1547" x2="1549.5" y2="1673" stroke-width="1"/>
<line x1="1795.5" y1="1547" x2="1795.5" y2="1673" stroke-width="1"/>
<line x1="1797.5" y1="1547" x2="1797.5" y2="1673" stroke-width="1"/>
<line x1="1549" y1="1547.5" x2="1798" y2="1547.5" stroke-width="2"/>
<line x1="1549" y1="1610.5" x2="1798" y2="1610.5" stroke-width="2"/>
<line x1="1549" y1="1672.5" x2="1798" y2="1672.5" stroke-width="2"/>
<line x1="1579.5" y1="1547" x2="1579.5" y2="1673" stroke-width="3"/>
<line x1="1672.5" y1="1547" x2="1672.5" y2="1673" stroke-width="3"/>
<line x1="1765.5" y1="1547" x2="1765.5" y2="1673" stroke-width="3"/>
<line x1="1609.5" y1="1547" x2="1609.5" y2="1673" stroke-width="1"/>
<line x1="1611.5" y1="1547" x2="1611.5" y2="1673" stroke-width="1"/>
<line x1="1641.5" y1="1547" x2="1641.5" y2="1673" stroke-width="1"/>
<line x1="1643.5" y1="1547" x2="1643.5" y2="1673" stroke-width="1"/>
<line x1="1733.5" y1="1547" x2="1733.5" y2="1673" stroke-width="1"/>
<line x1="1735.5" y1="1547" x2="1735.5" y2="1673" stroke-width="1"/>
<line x1="1703.5" y1="1547" x2="1703.5" y2="1673" stroke-width="1"/>
<text class="s" transform="translate(1571.0,1605) rotate(-90)" x="-0.96" y="0" font-size="16.01" textLength="56.60" lengthAdjust="spacingAndGlyphs">1.00k 1%</text>
<text class="s" transform="translate(1571.0,1668) rotate(-90)" x="-0.96" y="0" font-size="16.01" textLength="53.60" lengthAdjust="spacingAndGlyphs">1.00k 1%</text>
<text class="s" transform="translate(1601.5,1605) rotate(-90)" x="-0.96" y="0" font-size="16.01" textLength="56.60" lengthAdjust="spacingAndGlyphs">499 Om 1%</text>
<text class="s" transform="translate(1601.5,1668) rotate(-90)" x="-0.96" y="0" font-size="16.01" textLength="53.60" lengthAdjust="spacingAndGlyphs">1.00k 1%</text>
<text class="s" transform="translate(1633.0,1605) rotate(-90)" x="-0.96" y="0" font-size="16.01" textLength="56.60" lengthAdjust="spacingAndGlyphs">499 Om 1%</text>
<text class="s" transform="translate(1633.0,1668) rotate(-90)" x="-0.96" y="0" font-size="16.01" textLength="53.60" lengthAdjust="spacingAndGlyphs">1.00k 1%</text>
<text class="s" transform="translate(1664.0,1605) rotate(-90)" x="-0.96" y="0" font-size="16.01" textLength="56.60" lengthAdjust="spacingAndGlyphs">499 Om 1%</text>
<text class="s" transform="translate(1664.0,1668) rotate(-90)" x="-0.96" y="0" font-size="16.01" textLength="53.60" lengthAdjust="spacingAndGlyphs">1.00k 1%</text>
<text class="s" transform="translate(1694.5,1605) rotate(-90)" x="-0.96" y="0" font-size="16.01" textLength="56.60" lengthAdjust="spacingAndGlyphs">499 Om 1%</text>
<text class="s" transform="translate(1694.5,1668) rotate(-90)" x="-0.96" y="0" font-size="16.01" textLength="53.60" lengthAdjust="spacingAndGlyphs">1.00k 1%</text>
<text class="s" transform="translate(1725.5,1605) rotate(-90)" x="-0.96" y="0" font-size="16.01" textLength="56.60" lengthAdjust="spacingAndGlyphs">499 Om 1%</text>
<text class="s" transform="translate(1725.5,1668) rotate(-90)" x="-0.96" y="0" font-size="16.01" textLength="53.60" lengthAdjust="spacingAndGlyphs">1.00k 1%</text>
<text class="s" transform="translate(1756.5,1605) rotate(-90)" x="-0.96" y="0" font-size="16.01" textLength="56.60" lengthAdjust="spacingAndGlyphs">499 Om 1%</text>
<text class="s" transform="translate(1756.5,1668) rotate(-90)" x="-0.96" y="0" font-size="16.01" textLength="53.60" lengthAdjust="spacingAndGlyphs">1.00k 1%</text>
<text class="s" transform="translate(1787.5,1605) rotate(-90)" x="-0.96" y="0" font-size="16.01" textLength="56.60" lengthAdjust="spacingAndGlyphs">499 Om 1%</text>
<text class="s" transform="translate(1787.5,1668) rotate(-90)" x="-0.96" y="0" font-size="16.01" textLength="53.60" lengthAdjust="spacingAndGlyphs">1.00k 1%</text>
<line x1="1549.5" y1="1687" x2="1549.5" y2="1813" stroke-width="1"/>
<line x1="1795.5" y1="1687" x2="1795.5" y2="1813" stroke-width="1"/>
<line x1="1797.5" y1="1687" x2="1797.5" y2="1813" stroke-width="1"/>
<line x1="1549" y1="1687.5" x2="1798" y2="1687.5" stroke-width="2"/>
<line x1="1549" y1="1750.5" x2="1798" y2="1750.5" stroke-width="2"/>
<line x1="1549" y1="1812.5" x2="1798" y2="1812.5" stroke-width="2"/>
<line x1="1579.5" y1="1687" x2="1579.5" y2="1813" stroke-width="3"/>
<line x1="1672.5" y1="1687" x2="1672.5" y2="1813" stroke-width="3"/>
<line x1="1765.5" y1="1687" x2="1765.5" y2="1813" stroke-width="3"/>
<line x1="1609.5" y1="1687" x2="1609.5" y2="1813" stroke-width="1"/>
<line x1="1611.5" y1="1687" x2="1611.5" y2="1813" stroke-width="1"/>
<line x1="1641.5" y1="1687" x2="1641.5" y2="1813" stroke-width="1"/>
<line x1="1643.5" y1="1687" x2="1643.5" y2="1813" stroke-width="1"/>
<line x1="1733.5" y1="1687" x2="1733.5" y2="1813" stroke-width="1"/>
<line x1="1735.5" y1="1687" x2="1735.5" y2="1813" stroke-width="1"/>
<line x1="1703.5" y1="1687" x2="1703.5" y2="1813" stroke-width="1"/>
<text class="s" transform="translate(1571.0,1745) rotate(-90)" x="-0.96" y="0" font-size="16.01" textLength="56.60" lengthAdjust="spacingAndGlyphs">1.00k 1%</text>
<text class="s" transform="translate(1571.0,1808) rotate(-90)" x="-0.96" y="0" font-size="16.01" textLength="53.60" lengthAdjust="spacingAndGlyphs">1.00k 1%</text>
<text class="s" transform="translate(1601.5,1745) rotate(-90)" x="-0.96" y="0" font-size="16.01" textLength="56.60" lengthAdjust="spacingAndGlyphs">499 Om 1%</text>
<text class="s" transform="translate(1601.5,1808) rotate(-90)" x="-0.96" y="0" font-size="16.01" textLength="53.60" lengthAdjust="spacingAndGlyphs">1.00k 1%</text>
<text class="s" transform="translate(1633.0,1745) rotate(-90)" x="-0.96" y="0" font-size="16.01" textLength="56.60" lengthAdjust="spacingAndGlyphs">499 Om 1%</text>
<text class="s" transform="translate(1633.0,1808) rotate(-90)" x="-0.96" y="0" font-size="16.01" textLength="53.60" lengthAdjust="spacingAndGlyphs">1.00k 1%</text>
<text class="s" transform="translate(1664.0,1745) rotate(-90)" x="-0.96" y="0" font-size="16.01" textLength="56.60" lengthAdjust="spacingAndGlyphs">499 Om 1%</text>
<text class="s" transform="translate(1664.0,1808) rotate(-90)" x="-0.96" y="0" font-size="16.01" textLength="53.60" lengthAdjust="spacingAndGlyphs">1.00k 1%</text>
<text class="s" transform="translate(1694.5,1745) rotate(-90)" x="-0.96" y="0" font-size="16.01" textLength="56.60" lengthAdjust="spacingAndGlyphs">499 Om 1%</text>
<text class="s" transform="translate(1694.5,1808) rotate(-90)" x="-0.96" y="0" font-size="16.01" textLength="53.60" lengthAdjust="spacingAndGlyphs">1.00k 1%</text>
<text class="s" transform="translate(1725.5,1745) rotate(-90)" x="-0.96" y="0" font-size="16.01" textLength="56.60" lengthAdjust="spacingAndGlyphs">499 Om 1%</text>
<text class="s" transform="translate(1725.5,1808) rotate(-90)" x="-0.96" y="0" font-size="16.01" textLength="53.60" lengthAdjust="spacingAndGlyphs">1.00k 1%</text>
<text class="s" transform="translate(1756.5,1745) rotate(-90)" x="-0.96" y="0" font-size="16.01" textLength="56.60" lengthAdjust="spacingAndGlyphs">499 Om 1%</text>
<text class="s" transform="translate(1756.5,1808) rotate(-90)" x="-0.96" y="0" font-size="16.01" textLength="53.60" lengthAdjust="spacingAndGlyphs">1.00k 1%</text>
<text class="s" transform="translate(1787.5,1745) rotate(-90)" x="-0.96" y="0" font-size="16.01" textLength="56.60" lengthAdjust="spacingAndGlyphs">499 Om 1%</text>
<text class="s" transform="translate(1787.5,1808) rotate(-90)" x="-0.96" y="0" font-size="16.01" textLength="53.60" lengthAdjust="spacingAndGlyphs">1.00k 1%</text>
<line x1="1549.5" y1="1826" x2="1549.5" y2="1951" stroke-width="1"/>
<line x1="1795.5" y1="1826" x2="1795.5" y2="1951" stroke-width="1"/>
<line x1="1797.5" y1="1826" x2="1797.5" y2="1951" stroke-width="1"/>
<line x1="1549" y1="1826.5" x2="1798" y2="1826.5" stroke-width="2"/>
<line x1="1549" y1="1888.5" x2="1798" y2="1888.5" stroke-width="2"/>
<line x1="1549" y1="1950.5" x2="1798" y2="1950.5" stroke-width="2"/>
<line x1="1579.5" y1="1826" x2="1579.5" y2="1951" stroke-width="3"/>
<line x1="1672.5" y1="1826" x2="1672.5" y2="1951" stroke-width="3"/>
<line x1="1765.5" y1="1826" x2="1765.5" y2="1951" stroke-width="3"/>
<line x1="1609.5" y1="1826" x2="1609.5" y2="1951" stroke-width="1"/>
<line x1="1611.5" y1="1826" x2="1611.5" y2="1951" stroke-width="1"/>
<line x1="1641.5" y1="1826" x2="1641.5" y2="1951" stroke-width="1"/>
<line x1="1643.5" y1="1826" x2="1643.5" y2="1951" stroke-width="1"/>
<line x1="1733.5" y1="1826" x2="1733.5" y2="1951" stroke-width="1"/>
<line x1="1735.5" y1="1826" x2="1735.5" y2="1951" stroke-width="1"/>
<line x1="1703.5" y1="1826" x2="1703.5" y2="1951" stroke-width="1"/>
<text class="s" transform="translate(1571.0,1883) rotate(-90)" x="-0.96" y="0" font-size="16.01" textLength="55.60" lengthAdjust="spacingAndGlyphs">1.00k 1%</text>
<text class="s" transform="translate(1571.0,1946) rotate(-90)" x="-0.96" y="0" font-size="16.01" textLength="53.60" lengthAdjust="spacingAndGlyphs">1.00k 1%</text>
<text class="s" transform="translate(1601.5,1883) rotate(-90)" x="-0.96" y="0" font-size="16.01" textLength="55.60" lengthAdjust="spacingAndGlyphs">499 Om 1%</text>
<text class="s" transform="translate(1601.5,1946) rotate(-90)" x="-0.96" y="0" font-size="16.01" textLength="53.60" lengthAdjust="spacingAndGlyphs">1.00k 1%</text>
<text class="s" transform="translate(1633.0,1883) rotate(-90)" x="-0.96" y="0" font-size="16.01" textLength="55.60" lengthAdjust="spacingAndGlyphs">499 Om 1%</text>
<text class="s" transform="translate(1633.0,1946) rotate(-90)" x="-0.96" y="0" font-size="16.01" textLength="53.60" lengthAdjust="spacingAndGlyphs">1.00k 1%</text>
<text class="s" transform="translate(1664.0,1883) rotate(-90)" x="-0.96" y="0" font-size="16.01" textLength="55.60" lengthAdjust="spacingAndGlyphs">499 Om 1%</text>
<text class="s" transform="translate(1664.0,1946) rotate(-90)" x="-0.96" y="0" font-size="16.01" textLength="53.60" lengthAdjust="spacingAndGlyphs">1.00k 1%</text>
<text class="s" transform="translate(1694.5,1883) rotate(-90)" x="-0.96" y="0" font-size="16.01" textLength="55.60" lengthAdjust="spacingAndGlyphs">499 Om 1%</text>
<text class="s" transform="translate(1694.5,1946) rotate(-90)" x="-0.96" y="0" font-size="16.01" textLength="53.60" lengthAdjust="spacingAndGlyphs">1.00k 1%</text>
<text class="s" transform="translate(1725.5,1883) rotate(-90)" x="-0.96" y="0" font-size="16.01" textLength="55.60" lengthAdjust="spacingAndGlyphs">499 Om 1%</text>
<text class="s" transform="translate(1725.5,1946) rotate(-90)" x="-0.96" y="0" font-size="16.01" textLength="53.60" lengthAdjust="spacingAndGlyphs">1.00k 1%</text>
<text class="s" transform="translate(1756.5,1883) rotate(-90)" x="-0.96" y="0" font-size="16.01" textLength="55.60" lengthAdjust="spacingAndGlyphs">499 Om 1%</text>
<text class="s" transform="translate(1756.5,1946) rotate(-90)" x="-0.96" y="0" font-size="16.01" textLength="53.60" lengthAdjust="spacingAndGlyphs">1.00k 1%</text>
<text class="s" transform="translate(1787.5,1883) rotate(-90)" x="-0.96" y="0" font-size="16.01" textLength="55.60" lengthAdjust="spacingAndGlyphs">499 Om 1%</text>
<text class="s" transform="translate(1787.5,1946) rotate(-90)" x="-0.96" y="0" font-size="16.01" textLength="53.60" lengthAdjust="spacingAndGlyphs">1.00k 1%</text>
<text class="m" transform="translate(1514,1540)" x="-1.18" y="0" font-size="19.76" textLength="34.37" lengthAdjust="spacing">C13</text>
<circle cx="1518" cy="1532" r="4" fill="#000"/>
<line x1="1518.5" y1="1520" x2="1518.5" y2="1533" stroke-width="2"/>
<text class="s" transform="translate(1577,1533)" x="-0.96" y="0" font-size="16.01" textLength="32.60" lengthAdjust="spacingAndGlyphs">22 pF</text>
<rect x="1504.5" y="1518.5" width="69" height="29"/>
<line x1="1506.5" y1="1518" x2="1506.5" y2="1548" stroke-width="1"/>
<line x1="1357" y1="52.5" x2="1467" y2="52.5" stroke-width="2"/>
<rect x="1191.5" y="120.5" width="102" height="266"/>
<line x1="1191" y1="122.5" x2="1292" y2="122.5" stroke-width="1"/>
<line x1="1291.5" y1="122" x2="1291.5" y2="385" stroke-width="1"/>
<line x1="1191" y1="384.5" x2="1292" y2="384.5" stroke-width="1"/>
<line x1="1195.5" y1="223" x2="1195.5" y2="284" stroke-width="1"/>
<text class="m" transform="translate(1230,171) rotate(-90)" x="-1.06" y="0" font-size="15.20" textLength="9.12" lengthAdjust="spacing">1</text>
<text class="m" transform="translate(1235,200) rotate(90)" x="-0.78" y="0" font-size="15.69" textLength="17.57" lengthAdjust="spacing">X1</text>
<text class="m" transform="translate(1300,152)" x="-1.96" y="0" font-size="18.24" textLength="36.92" lengthAdjust="spacing">R47</text>
<polyline points="1333.5,145.5 1404.5,145.5 1404.5,175.5 1341.5,175.5" stroke-width="1"/>
<line x1="1335.5" y1="145" x2="1335.5" y2="169" stroke-width="1"/>
<rect x="1286.0" y="161.0" width="65" height="216" stroke-width="2"/>
<line x1="1287.5" y1="161" x2="1287.5" y2="377" stroke-width="1"/>
<line x1="1286" y1="190.5" x2="1351" y2="190.5" stroke-width="2"/>
<line x1="1286" y1="221.5" x2="1351" y2="221.5" stroke-width="2"/>
<line x1="1286" y1="253.5" x2="1351" y2="253.5" stroke-width="2"/>
<line x1="1286" y1="284.5" x2="1351" y2="284.5" stroke-width="2"/>
<line x1="1286" y1="315.5" x2="1351" y2="315.5" stroke-width="2"/>
<line x1="1286" y1="346.5" x2="1351" y2="346.5" stroke-width="2"/>
<text class="s" transform="translate(1295,181)" x="-1.05" y="0" font-size="17.47" textLength="45.75" lengthAdjust="spacingAndGlyphs">150 Om</text>
<text class="m" transform="translate(1310,209)" x="-1.96" y="0" font-size="18.24" textLength="36.92" lengthAdjust="spacing">R32</text>
<text class="m" transform="translate(1310,241)" x="-1.96" y="0" font-size="18.24" textLength="36.92" lengthAdjust="spacing">R34</text>
<text class="m" transform="translate(1310,272)" x="-1.96" y="0" font-size="18.24" textLength="36.92" lengthAdjust="spacing">R36</text>
<text class="m" transform="translate(1310,302)" x="-1.96" y="0" font-size="18.24" textLength="36.92" lengthAdjust="spacing">R39</text>
<text class="m" transform="translate(1310,333)" x="-1.96" y="0" font-size="18.24" textLength="36.92" lengthAdjust="spacing">R41</text>
<text class="m" transform="translate(1310,365)" x="-1.96" y="0" font-size="18.24" textLength="36.92" lengthAdjust="spacing">R44</text>
<polyline points="1358.5,206.5 1366.5,212.5 1366.5,364.5 1358.5,368.5" stroke-width="1"/>
<line x1="1366" y1="294.5" x2="1370" y2="294.5" stroke-width="1"/>
<text class="s" transform="translate(1388,321) rotate(-90)" x="-0.96" y="0" font-size="16.01" textLength="58.60" lengthAdjust="spacingAndGlyphs">6 x 1 kOm</text>
<rect x="1001.5" y="375.5" width="327" height="126"/>
<line x1="1002" y1="408.5" x2="1328" y2="408.5" stroke-width="1"/>
<line x1="1002" y1="468.5" x2="1328" y2="468.5" stroke-width="1"/>
<line x1="1002.5" y1="408" x2="1002.5" y2="469" stroke-width="2"/>
<rect x="1002.5" y="422.5" width="8" height="32"/>
<text class="m" transform="translate(1045,441)" x="-2.48" y="0" font-size="16.72" textLength="37.97" lengthAdjust="spacing">DD5</text>
<text class="s" transform="translate(1127,445)" x="-1.14" y="0" font-size="18.92" textLength="68.89" lengthAdjust="spacingAndGlyphs">К555АП3</text>
<rect x="1470.5" y="183.5" width="128" height="264"/>
<rect x="1503.5" y="184.5" width="61" height="261"/>
<rect x="1518.5" y="184.5" width="32" height="7"/>
<text class="m" transform="translate(1541,267) rotate(-90)" x="-1.74" y="0" font-size="18.24" textLength="47.48" lengthAdjust="spacing">DD14</text>
<text class="s" transform="translate(1542,393) rotate(-90)" x="-1.14" y="0" font-size="18.92" textLength="94.89" lengthAdjust="spacingAndGlyphs">КР1533КП11</text>
<rect x="1471.5" y="460.5" width="126" height="264"/>
<rect x="1503.5" y="461.5" width="62" height="263"/>
<rect x="1518.5" y="461.5" width="33" height="7"/>
<text class="m" transform="translate(1540,537) rotate(-90)" x="-2.21" y="0" font-size="16.72" textLength="48.41" lengthAdjust="spacing">DD13</text>
<text class="s" transform="translate(1541,675) rotate(-90)" x="-1.05" y="0" font-size="17.47" textLength="93.75" lengthAdjust="spacingAndGlyphs">КР1533КП11</text>
<rect x="1610.5" y="183.5" width="127" height="326"/>
<rect x="1642.5" y="184.5" width="62" height="323"/>
<rect x="1658.5" y="500.5" width="30" height="7"/>
<text class="s" transform="translate(1667,372) rotate(-90)" x="-1.05" y="0" font-size="17.47" textLength="94.75" lengthAdjust="spacingAndGlyphs">КР1533ИР23</text>
<text class="s" transform="translate(1687,377) rotate(-90)" x="-1.22" y="0" font-size="20.38" textLength="98.04" lengthAdjust="spacingAndGlyphs">или 74НС374</text>
<text class="m" transform="translate(1676,459) rotate(-90)" x="-2.07" y="0" font-size="18.24" textLength="50.15" lengthAdjust="spacing">DD15</text>
<rect x="1749.5" y="97.5" width="218" height="404"/>
<rect x="1781.5" y="97.5" width="154" height="403"/>
<line x1="1781" y1="97.5" x2="1936" y2="97.5" stroke-width="2"/>
<line x1="1781" y1="500.5" x2="1936" y2="500.5" stroke-width="2"/>
<rect x="1843.5" y="99.5" width="31" height="7"/>
<rect x="1828.5" y="114.5" width="71" height="31"/>
<text class="m" transform="translate(1872,147) rotate(-90)" x="-2.81" y="0" font-size="16.72" textLength="26.62" lengthAdjust="spacing">U4</text>
<rect x="1796.5" y="166.5" width="126" height="266"/>
<rect x="1828.5" y="169.5" width="61" height="262"/>
<rect x="1843.5" y="169.5" width="31" height="8"/>
<text class="s" transform="translate(1866,313) rotate(-90)" x="-1.05" y="0" font-size="17.47" textLength="87.75" lengthAdjust="spacingAndGlyphs">КР1533ТМ9</text>
<text class="m" transform="translate(1863,376) rotate(-90)" x="-3.23" y="0" font-size="16.72" textLength="42.47" lengthAdjust="spacing">DD3</text>
<text class="m" transform="translate(2044,36)" x="-2.23" y="0" font-size="16.72" textLength="36.47" lengthAdjust="spacing">JR1</text>
<rect x="2035.5" y="39.5" width="261" height="224"/>
<line x1="2035" y1="39.5" x2="2297" y2="39.5" stroke-width="2"/>
<rect x="2035.5" y="64.5" width="20" height="199"/>
<rect x="2275.5" y="64.5" width="21" height="199"/>
<line x1="2055" y1="262.5" x2="2276" y2="262.5" stroke-width="2"/>
<text class="m" transform="translate(2149,131)" x="-2.71" y="0" font-size="16.72" textLength="52.41" lengthAdjust="spacing">CASE</text>
<text class="m" transform="translate(2119,258) rotate(-90)" x="-2.98" y="0" font-size="16.72" textLength="40.97" lengthAdjust="spacing">VT5</text>
<text class="m" transform="translate(2152,258) rotate(-90)" x="-2.98" y="0" font-size="16.72" textLength="40.97" lengthAdjust="spacing">VT4</text>
<rect x="2036.0" y="276.0" width="62" height="156" stroke-width="2"/>
<line x1="2100.5" y1="272" x2="2100.5" y2="433" stroke-width="1"/>
<line x1="2035" y1="306.5" x2="2099" y2="306.5" stroke-width="2"/>
<line x1="2035" y1="337.5" x2="2099" y2="337.5" stroke-width="2"/>
<line x1="2035" y1="368.5" x2="2099" y2="368.5" stroke-width="2"/>
<line x1="2035" y1="399.5" x2="2099" y2="399.5" stroke-width="2"/>
<line x1="2045" y1="291.5" x2="2092" y2="291.5" stroke-width="2"/>
<line x1="2056.5" y1="278" x2="2056.5" y2="304" stroke-width="2"/>
<polygon points="2076.5,278.5 2076.5,303.5 2056.5,291.5" stroke-width="2"/>
<line x1="2042" y1="384.5" x2="2090" y2="384.5" stroke-width="2"/>
<line x1="2053.5" y1="371" x2="2053.5" y2="397" stroke-width="2"/>
<polygon points="2073.5,371.5 2073.5,396.5 2053.5,384.5" stroke-width="2"/>
<text class="s" transform="translate(2046,328)" x="-0.87" y="0" font-size="14.56" textLength="39.46" lengthAdjust="spacingAndGlyphs">51 Om</text>
<text class="s" transform="translate(2044,359)" x="-0.96" y="0" font-size="16.01" textLength="45.60" lengthAdjust="spacingAndGlyphs">150 Om</text>
<text class="s" transform="translate(2046,421)" x="-0.96" y="0" font-size="16.01" textLength="39.60" lengthAdjust="spacingAndGlyphs">51 Om</text>
<text class="m" transform="translate(2029,303) rotate(-90)" x="-2.73" y="0" font-size="16.72" textLength="39.47" lengthAdjust="spacing">VD3</text>
<text class="m" transform="translate(1995,328)" x="-1.71" y="0" font-size="18.24" textLength="35.42" lengthAdjust="spacing">R15</text>
<text class="m" transform="translate(1998,350)" x="-1.71" y="0" font-size="18.24" textLength="35.42" lengthAdjust="spacing">R10</text>
<text class="m" transform="translate(2029,389) rotate(-90)" x="-2.73" y="0" font-size="16.72" textLength="39.47" lengthAdjust="spacing">VD4</text>
<text class="s" transform="translate(1991,378) rotate(-90)" x="-0.96" y="0" font-size="16.01" textLength="98.60" lengthAdjust="spacingAndGlyphs">2x КС147-КС156</text>
<text class="m" transform="translate(2047,443)" x="-2.73" y="0" font-size="16.72" textLength="39.47" lengthAdjust="spacing">R16</text>
<rect x="2036.0" y="446.0" width="63" height="32" stroke-width="2"/>
<text class="s" transform="translate(2041,468)" x="-0.96" y="0" font-size="16.01" textLength="46.60" lengthAdjust="spacingAndGlyphs">150 Om</text>
<text class="m" transform="translate(2049,496)" x="-2.21" y="0" font-size="18.24" textLength="38.42" lengthAdjust="spacing">R18</text>
<rect x="1996.5" y="390.5" width="32" height="64"/>
<line x1="1996" y1="392.5" x2="2029" y2="392.5" stroke-width="1"/>
<line x1="1996" y1="454.5" x2="2029" y2="454.5" stroke-width="2"/>
<text class="s" transform="translate(2015,449) rotate(-90)" x="-0.87" y="0" font-size="14.56" textLength="48.46" lengthAdjust="spacingAndGlyphs">2.0 kOm</text>
<text class="m" transform="translate(1991,448) rotate(-90)" x="-2.37" y="0" font-size="16.72" textLength="49.75" lengthAdjust="spacing">R178</text>
<rect x="1996.5" y="454.5" width="32" height="62"/>
<line x1="1996" y1="514.5" x2="2029" y2="514.5" stroke-width="1"/>
<text class="s" transform="translate(2016,509) rotate(-90)" x="-0.87" y="0" font-size="14.56" textLength="46.46" lengthAdjust="spacingAndGlyphs">2.0 kOm</text>
<text class="m" transform="translate(1993,508) rotate(-90)" x="-1.57" y="0" font-size="18.24" textLength="46.15" lengthAdjust="spacing">R179</text>
<rect x="2200.5" y="302.5" width="87" height="87"/>
<circle cx="2243.5" cy="345.5" r="42"/>
<text class="s" transform="translate(2213,338)" x="-0.87" y="0" font-size="14.56" textLength="52.46" lengthAdjust="spacingAndGlyphs">50.0 mkF</text>
<text class="s" transform="translate(2225,353)" x="-0.87" y="0" font-size="14.56" textLength="22.46" lengthAdjust="spacingAndGlyphs">16V</text>
<text class="m" transform="translate(2229,372)" x="-1.71" y="0" font-size="18.24" textLength="35.42" lengthAdjust="spacing">C21</text>
<line x1="2263" y1="344.5" x2="2274" y2="344.5" stroke-width="2"/>
<line x1="2268.5" y1="339" x2="2268.5" y2="350" stroke-width="2"/>
<rect x="2308.5" y="302.5" width="87" height="87"/>
<circle cx="2351.5" cy="345.5" r="42"/>
<text class="s" transform="translate(2321,338)" x="-0.87" y="0" font-size="14.56" textLength="52.46" lengthAdjust="spacingAndGlyphs">50.0 mkF</text>
<text class="s" transform="translate(2333,353)" x="-0.87" y="0" font-size="14.56" textLength="22.46" lengthAdjust="spacingAndGlyphs">16V</text>
<text class="m" transform="translate(2337,372)" x="-1.71" y="0" font-size="18.24" textLength="35.42" lengthAdjust="spacing">C27</text>
<line x1="2371" y1="344.5" x2="2382" y2="344.5" stroke-width="2"/>
<line x1="2376.5" y1="339" x2="2376.5" y2="350" stroke-width="2"/>
<rect x="2200.5" y="425.5" width="87" height="87"/>
<circle cx="2243.5" cy="468.5" r="42"/>
<text class="s" transform="translate(2218,459)" x="-0.87" y="0" font-size="14.56" textLength="53.46" lengthAdjust="spacingAndGlyphs">50.0 mkF</text>
<text class="s" transform="translate(2230,475)" x="-0.96" y="0" font-size="16.01" textLength="22.60" lengthAdjust="spacingAndGlyphs">16V</text>
<text class="m" transform="translate(2220,496)" x="-1.18" y="0" font-size="19.76" textLength="34.37" lengthAdjust="spacing">C19</text>
<line x1="2212" y1="469.5" x2="2223" y2="469.5" stroke-width="2"/>
<line x1="2217.5" y1="464" x2="2217.5" y2="475" stroke-width="2"/>
<rect x="2308.5" y="425.5" width="87" height="87"/>
<circle cx="2351.5" cy="468.5" r="42"/>
<text class="s" transform="translate(2326,459)" x="-0.87" y="0" font-size="14.56" textLength="53.46" lengthAdjust="spacingAndGlyphs">50.0 mkF</text>
<text class="s" transform="translate(2338,475)" x="-0.96" y="0" font-size="16.01" textLength="22.60" lengthAdjust="spacingAndGlyphs">16V</text>
<text class="m" transform="translate(2328,496)" x="-1.18" y="0" font-size="19.76" textLength="34.37" lengthAdjust="spacing">C18</text>
<line x1="2320" y1="469.5" x2="2331" y2="469.5" stroke-width="2"/>
<line x1="2325.5" y1="464" x2="2325.5" y2="475" stroke-width="2"/>
<text class="s" transform="translate(2334,286) rotate(-90)" x="-1.14" y="0" font-size="18.92" textLength="104.89" lengthAdjust="spacingAndGlyphs" font-weight="bold">ВНИМАНИЕ!</text>
<text class="s" transform="translate(2354,293) rotate(-90)" x="-1.14" y="0" font-size="18.92" textLength="159.89" lengthAdjust="spacingAndGlyphs">Правильная полярность</text>
<text class="s" transform="translate(2370,293) rotate(-90)" x="-0.96" y="0" font-size="16.01" textLength="119.60" lengthAdjust="spacingAndGlyphs">указана знаком +</text>
<rect x="2409.5" y="188.5" width="100" height="290"/>
<rect x="2411.5" y="190.5" width="96" height="286"/>
<line x1="2438.5" y1="190" x2="2438.5" y2="477" stroke-width="2"/>
<rect x="2409.5" y="480.5" width="100" height="291"/>
<rect x="2411.5" y="482.5" width="96" height="287"/>
<line x1="2438.5" y1="482" x2="2438.5" y2="770" stroke-width="2"/>
<rect x="2459.5" y="220" width="12" height="30" rx="6" ry="6" stroke-width="1.6"/>
<rect x="2459.5" y="261" width="12" height="30" rx="6" ry="6" stroke-width="1.6"/>
<rect x="2459.5" y="302" width="12" height="30" rx="6" ry="6" stroke-width="1.6"/>
<rect x="2459.5" y="343" width="12" height="30" rx="6" ry="6" stroke-width="1.6"/>
<rect x="2459.5" y="384" width="12" height="30" rx="6" ry="6" stroke-width="1.6"/>
<rect x="2459.5" y="425" width="12" height="30" rx="6" ry="6" stroke-width="1.6"/>
<rect x="2459.5" y="512" width="12" height="30" rx="6" ry="6" stroke-width="1.6"/>
<rect x="2459.5" y="553" width="12" height="30" rx="6" ry="6" stroke-width="1.6"/>
<rect x="2459.5" y="594" width="12" height="30" rx="6" ry="6" stroke-width="1.6"/>
<rect x="2459.5" y="635" width="12" height="30" rx="6" ry="6" stroke-width="1.6"/>
<rect x="2459.5" y="676" width="12" height="30" rx="6" ry="6" stroke-width="1.6"/>
<rect x="2459.5" y="717" width="12" height="30" rx="6" ry="6" stroke-width="1.6"/>
<text class="m" transform="translate(2499,368) rotate(-90)" x="-1.71" y="0" font-size="18.24" textLength="35.42" lengthAdjust="spacing">JP1</text>
<text class="m" transform="translate(2499,686) rotate(-90)" x="-1.46" y="0" font-size="18.24" textLength="33.92" lengthAdjust="spacing">JP2</text>
<rect x="2556" y="0" width="4" height="2048" fill="#000" stroke="none"/>
<rect x="0" y="2044" width="2560" height="4" fill="#000" stroke="none"/>
<rect x="1641.5" y="545.5" width="650" height="218"/>
<rect x="1641.5" y="577.5" width="649" height="154"/>
<line x1="1641.5" y1="577" x2="1641.5" y2="732" stroke-width="2"/>
<rect x="1633.5" y="591.5" width="266" height="127"/>
<line x1="1634" y1="623.5" x2="1897" y2="623.5" stroke-width="1"/>
<line x1="1634" y1="686.5" x2="1897" y2="686.5" stroke-width="1"/>
<line x1="1896.5" y1="623" x2="1896.5" y2="687" stroke-width="1"/>
<rect x="1633.5" y="639.5" width="8" height="30"/>
<rect x="1661.5" y="614.5" width="29" height="69"/>
<text class="m" transform="translate(1682,657)" x="-1.74" y="0" font-size="18.24" textLength="47.48" lengthAdjust="spacing">DD17</text>
<text class="s" transform="translate(1756,658)" x="-1.14" y="0" font-size="18.92" textLength="68.89" lengthAdjust="spacingAndGlyphs">К155ЛА8</text>
<rect x="1911.5" y="591.5" width="326" height="127"/>
<line x1="1912" y1="623.5" x2="2238" y2="623.5" stroke-width="1"/>
<line x1="1912" y1="686.5" x2="2238" y2="686.5" stroke-width="1"/>
<line x1="1912.5" y1="623" x2="1912.5" y2="687" stroke-width="2"/>
<rect x="1912.5" y="639.5" width="8" height="30"/>
<text class="m" transform="translate(1947,664)" x="-2.48" y="0" font-size="16.72" textLength="37.97" lengthAdjust="spacing">DD4</text>
<text class="s" transform="translate(2037,661)" x="-1.05" y="0" font-size="17.47" textLength="68.75" lengthAdjust="spacingAndGlyphs">К555АП3</text>
<rect x="2259.5" y="614.5" width="30" height="70"/>
<rect x="2282.5" y="639.5" width="7" height="31"/>
<text class="m" transform="translate(2250,658)" x="-1.61" y="0" font-size="18.24" textLength="23.22" lengthAdjust="spacing">U1</text>
<text class="m" transform="translate(2285,600) rotate(-90)" x="-2.73" y="0" font-size="16.72" textLength="39.47" lengthAdjust="spacing">VT3</text>
<text class="m" transform="translate(2286,744) rotate(-90)" x="-2.73" y="0" font-size="16.72" textLength="39.47" lengthAdjust="spacing">VT2</text>
<rect x="1594.5" y="561.5" width="35" height="125"/>
<line x1="1596.5" y1="562" x2="1596.5" y2="686" stroke-width="1"/>
<line x1="1595" y1="622.5" x2="1629" y2="622.5" stroke-width="1"/>
<line x1="1595" y1="624.5" x2="1629" y2="624.5" stroke-width="1"/>
<text class="m" transform="translate(1615,609) rotate(-90)" x="-1.71" y="0" font-size="18.24" textLength="35.42" lengthAdjust="spacing">R21</text>
<text class="m" transform="translate(1615,667) rotate(-90)" x="-1.96" y="0" font-size="18.24" textLength="36.92" lengthAdjust="spacing">R20</text>
<text class="s" transform="translate(1588,664) rotate(-90)" x="-0.79" y="0" font-size="13.10" textLength="66.31" lengthAdjust="spacingAndGlyphs">2 x 4.3 kOm</text>
<rect x="2298.5" y="534.5" width="42" height="108"/>
<rect x="2302.5" y="538.5" width="36" height="102"/>
<text class="s" transform="translate(2326,626) rotate(-90)" x="-0.96" y="0" font-size="16.01" textLength="71.60" lengthAdjust="spacingAndGlyphs">КТ315Б,Г,Е</text>
<rect x="2298.5" y="643.5" width="42" height="106"/>
<rect x="2302.5" y="647.5" width="36" height="100"/>
<text class="s" transform="translate(2323,735) rotate(-90)" x="-0.96" y="0" font-size="16.01" textLength="72.60" lengthAdjust="spacingAndGlyphs">КТ361Б,Г,Е</text>
<rect x="2351.0" y="546.0" width="32" height="124" stroke-width="2"/>
<line x1="2351" y1="608.5" x2="2383" y2="608.5" stroke-width="2"/>
<line x1="2367.5" y1="554" x2="2367.5" y2="601" stroke-width="2"/>
<line x1="2353" y1="589.5" x2="2382" y2="589.5" stroke-width="2"/>
<polygon points="2355.5,568.5 2379.5,568.5 2367.5,589.5" stroke-width="2"/>
<text class="s" transform="translate(2373,661) rotate(-90)" x="-0.96" y="0" font-size="16.01" textLength="38.60" lengthAdjust="spacingAndGlyphs">1 kOm</text>
<text class="m" transform="translate(2400,551) rotate(-90)" x="-2.73" y="0" font-size="16.72" textLength="39.47" lengthAdjust="spacing">VD8</text>
<text class="s" transform="translate(2400,594) rotate(-90)" x="-0.96" y="0" font-size="16.01" textLength="41.60" lengthAdjust="spacingAndGlyphs">КС133</text>
<text class="m" transform="translate(2401,642) rotate(-90)" x="-2.71" y="0" font-size="18.24" textLength="41.42" lengthAdjust="spacing">R38</text>
<text class="m" transform="translate(2397,681) rotate(-90)" x="-2.98" y="0" font-size="16.72" textLength="40.97" lengthAdjust="spacing">VD6</text>
<rect x="2350.5" y="683.5" width="64" height="64"/>
<line x1="2352.5" y1="684" x2="2352.5" y2="747" stroke-width="1"/>
<line x1="2381.5" y1="683" x2="2381.5" y2="748" stroke-width="1"/>
<line x1="2383.5" y1="683" x2="2383.5" y2="748" stroke-width="1"/>
<line x1="2366.5" y1="691" x2="2366.5" y2="739" stroke-width="2"/>
<line x1="2353" y1="703.5" x2="2380" y2="703.5" stroke-width="2"/>
<polygon points="2353.5,725.5 2379.5,725.5 2366.5,703.5" stroke-width="2"/>
<text class="s" transform="translate(2402,741) rotate(-90)" x="-0.96" y="0" font-size="16.01" textLength="47.60" lengthAdjust="spacingAndGlyphs">2.0 kOm</text>
<text class="m" transform="translate(2431,741) rotate(-90)" x="-2.04" y="0" font-size="16.72" textLength="47.08" lengthAdjust="spacing">R190</text>
<text class="s" transform="translate(2342,767)" x="-0.96" y="0" font-size="16.01" textLength="38.60" lengthAdjust="spacingAndGlyphs">КД522</text>
<rect x="1902.5" y="777.5" width="63" height="33"/>
<line x1="1904.5" y1="778" x2="1904.5" y2="810" stroke-width="1"/>
<text class="s" transform="translate(1910,800)" x="-0.87" y="0" font-size="14.56" textLength="48.46" lengthAdjust="spacingAndGlyphs">4.3 kOm</text>
<text class="m" transform="translate(1912,825)" x="-1.91" y="0" font-size="18.24" textLength="48.81" lengthAdjust="spacing">R191</text>
<rect x="1967.0" y="778.0" width="433" height="31" stroke-width="2"/>
<line x1="2027.5" y1="777" x2="2027.5" y2="810" stroke-width="2"/>
<line x1="2089.5" y1="777" x2="2089.5" y2="810" stroke-width="2"/>
<line x1="2151.5" y1="777" x2="2151.5" y2="810" stroke-width="2"/>
<line x1="2212.5" y1="777" x2="2212.5" y2="810" stroke-width="2"/>
<line x1="2275.5" y1="777" x2="2275.5" y2="810" stroke-width="2"/>
<line x1="2337.5" y1="777" x2="2337.5" y2="810" stroke-width="2"/>
<line x1="1974" y1="792.5" x2="2020" y2="792.5" stroke-width="2"/>
<line x1="1984.5" y1="780" x2="1984.5" y2="806" stroke-width="2"/>
<polygon points="2005.5,780.5 2005.5,805.5 1984.5,792.5" stroke-width="2"/>
<text class="m" transform="translate(1982,827)" x="-2.46" y="0" font-size="18.24" textLength="39.92" lengthAdjust="spacing">VD5</text>
<text class="m" transform="translate(2044,799)" x="-1.93" y="0" font-size="19.76" textLength="38.87" lengthAdjust="spacing">R25</text>
<text class="m" transform="translate(2111,797)" x="-1.93" y="0" font-size="19.76" textLength="38.87" lengthAdjust="spacing">R23</text>
<text class="m" transform="translate(2160,799)" x="-1.93" y="0" font-size="19.76" textLength="38.87" lengthAdjust="spacing">R19</text>
<text class="m" transform="translate(2226,797)" x="-1.93" y="0" font-size="19.76" textLength="38.87" lengthAdjust="spacing">R24</text>
<text class="m" transform="translate(2291,799)" x="-1.93" y="0" font-size="19.76" textLength="38.87" lengthAdjust="spacing">R22</text>
<text class="m" transform="translate(2345,799)" x="-1.93" y="0" font-size="19.76" textLength="38.87" lengthAdjust="spacing">R26</text>
<polyline points="2042.5,810.5 2045.5,814.5 2375.5,814.5 2378.5,810.5" stroke-width="1"/>
<line x1="2193.5" y1="812" x2="2193.5" y2="817" stroke-width="1"/>
<text class="s" transform="translate(2175,831)" x="-0.96" y="0" font-size="16.01" textLength="67.60" lengthAdjust="spacingAndGlyphs">6 x 4.3 kOm</text>
<text class="m" transform="translate(2435,791)" x="-2.07" y="0" font-size="18.24" textLength="50.15" lengthAdjust="spacing">R192</text>
<rect x="2428.5" y="792.5" width="64" height="33"/>
<rect x="2430.5" y="794.5" width="60" height="29"/>
<text class="s" transform="translate(2435,815)" x="-0.96" y="0" font-size="16.01" textLength="47.60" lengthAdjust="spacingAndGlyphs">4.3 kOm</text>
<text class="s" transform="translate(2541,1132) rotate(-90)" x="-1.14" y="0" font-size="18.92" textLength="488.89" lengthAdjust="spacingAndGlyphs" font-weight="bold">Кварц обмотать одним слоем изоленты для изоляции</text>
<text class="s" transform="translate(2539,1666) rotate(-90)" x="-1.40" y="0" font-size="23.29" textLength="513.33" lengthAdjust="spacingAndGlyphs" font-weight="bold">Перемычка для крепления кварца в лежачем положении</text>
<line x1="1880" y1="835.5" x2="2516" y2="835.5" stroke-width="2"/>
<line x1="1880.5" y1="835" x2="1880.5" y2="936" stroke-width="2"/>
<line x1="1880" y1="935.5" x2="2516" y2="935.5" stroke-width="2"/>
<line x1="2513.5" y1="835" x2="2513.5" y2="1029" stroke-width="1"/>
<line x1="2515.5" y1="835" x2="2515.5" y2="1029" stroke-width="1"/>
<text class="s" transform="translate(1985,856)" x="-0.96" y="0" font-size="16.01" textLength="37.60" lengthAdjust="spacingAndGlyphs">КД522</text>
<text class="m" transform="translate(2094,884)" x="-1.61" y="0" font-size="18.24" textLength="23.22" lengthAdjust="spacing">X5</text>
<text class="m" transform="translate(2467,876)" x="-1.61" y="0" font-size="18.24" textLength="23.22" lengthAdjust="spacing">34</text>
<text class="m" transform="translate(2467,907)" x="-2.31" y="0" font-size="16.72" textLength="24.62" lengthAdjust="spacing">33</text>
<line x1="2167" y1="932.5" x2="2229" y2="932.5" stroke-width="1"/>
<rect x="1487.5" y="737.5" width="125" height="326"/>
<rect x="1519.5" y="738.5" width="61" height="325"/>
<rect x="1534.5" y="738.5" width="31" height="9"/>
<text class="m" transform="translate(1541,773) rotate(90)" x="-3.31" y="0" font-size="16.72" textLength="28.62" lengthAdjust="spacing">U9</text>
<text class="s" transform="translate(1554,1007) rotate(-90)" x="-1.14" y="0" font-size="18.92" textLength="69.89" lengthAdjust="spacingAndGlyphs">К555АП6</text>
<rect x="1487.5" y="1154.5" width="125" height="328"/>
<rect x="1519.5" y="1154.5" width="61" height="328"/>
<rect x="1534.5" y="1154.5" width="31" height="9"/>
<text class="m" transform="translate(1556,1213) rotate(-90)" x="-2.11" y="0" font-size="18.24" textLength="25.22" lengthAdjust="spacing">U6</text>
<text class="s" transform="translate(1542,1310) rotate(-90)" x="-1.05" y="0" font-size="17.47" textLength="68.75" lengthAdjust="spacingAndGlyphs">К555АП6</text>
<line x1="1618.5" y1="776" x2="1618.5" y2="1272" stroke-width="1"/>
<line x1="1882.5" y1="776" x2="1882.5" y2="1272" stroke-width="1"/>
<line x1="1618" y1="776.5" x2="1883" y2="776.5" stroke-width="1"/>
<line x1="1619" y1="808.5" x2="1883" y2="808.5" stroke-width="1"/>
<line x1="1619" y1="870.5" x2="1883" y2="870.5" stroke-width="1"/>
<line x1="1619.5" y1="808" x2="1619.5" y2="871" stroke-width="2"/>
<rect x="1873.5" y="824.5" width="9" height="30"/>
<line x1="1618" y1="902.5" x2="1883" y2="902.5" stroke-width="1"/>
<text class="s" transform="translate(1704,846)" x="-1.05" y="0" font-size="17.47" textLength="93.75" lengthAdjust="spacingAndGlyphs">КР1533КП11</text>
<text class="m" transform="translate(1813,845)" x="-3.01" y="0" font-size="15.20" textLength="52.01" lengthAdjust="spacing">DD18</text>
<line x1="1618" y1="932.5" x2="1883" y2="932.5" stroke-width="1"/>
<line x1="1619" y1="933.5" x2="1883" y2="933.5" stroke-width="1"/>
<line x1="1619" y1="993.5" x2="1883" y2="993.5" stroke-width="1"/>
<line x1="1619.5" y1="933" x2="1619.5" y2="994" stroke-width="2"/>
<rect x="1873.5" y="946.5" width="9" height="33"/>
<line x1="1618" y1="1026.5" x2="1883" y2="1026.5" stroke-width="1"/>
<text class="s" transform="translate(1766,955)" x="-1.14" y="0" font-size="18.92" textLength="87.89" lengthAdjust="spacingAndGlyphs">КР1533ТМ9</text>
<text class="m" transform="translate(1812,978)" x="-1.74" y="0" font-size="18.24" textLength="47.48" lengthAdjust="spacing">DD16</text>
<circle cx="1820" cy="1005" r="5" stroke-width="2"/>
<text class="s" transform="translate(1844,1018) rotate(-90)" x="-1.05" y="0" font-size="17.47" textLength="15.75" lengthAdjust="spacingAndGlyphs">14</text>
<line x1="1618" y1="1054.5" x2="1883" y2="1054.5" stroke-width="1"/>
<line x1="1619" y1="1055.5" x2="1883" y2="1055.5" stroke-width="1"/>
<line x1="1619" y1="1117.5" x2="1883" y2="1117.5" stroke-width="1"/>
<line x1="1619.5" y1="1055" x2="1619.5" y2="1118" stroke-width="2"/>
<rect x="1873.5" y="1072.5" width="9" height="29"/>
<line x1="1618" y1="1149.5" x2="1883" y2="1149.5" stroke-width="1"/>
<text class="s" transform="translate(1699,1092)" x="-1.05" y="0" font-size="17.47" textLength="86.75" lengthAdjust="spacingAndGlyphs">КР1533ТМ9</text>
<text class="m" transform="translate(1813,1092)" x="-2.21" y="0" font-size="16.72" textLength="48.41" lengthAdjust="spacing">DD11</text>
<line x1="1618" y1="1178.5" x2="1883" y2="1178.5" stroke-width="1"/>
<line x1="1619" y1="1178.5" x2="1883" y2="1178.5" stroke-width="1"/>
<line x1="1619" y1="1240.5" x2="1883" y2="1240.5" stroke-width="1"/>
<line x1="1619.5" y1="1178" x2="1619.5" y2="1241" stroke-width="2"/>
<rect x="1873.5" y="1194.5" width="9" height="31"/>
<line x1="1618" y1="1271.5" x2="1883" y2="1271.5" stroke-width="1"/>
<text class="s" transform="translate(1697,1214)" x="-1.05" y="0" font-size="17.47" textLength="87.75" lengthAdjust="spacingAndGlyphs">КР1533ТМ9</text>
<text class="m" transform="translate(1805,1215)" x="-2.07" y="0" font-size="18.24" textLength="50.15" lengthAdjust="spacing">DD12</text>
<rect x="1889.0" y="870.0" width="33" height="63" stroke-width="2"/>
<line x1="1890" y1="871.5" x2="1921" y2="871.5" stroke-width="1"/>
<text class="m" transform="translate(1908,918) rotate(-90)" x="-2.71" y="0" font-size="18.24" textLength="41.42" lengthAdjust="spacing">R62</text>
<rect x="1889.0" y="946.0" width="33" height="62" stroke-width="2"/>
<text class="m" transform="translate(1911,992) rotate(-90)" x="-2.46" y="0" font-size="18.24" textLength="39.92" lengthAdjust="spacing">R63</text>
<rect x="1889.0" y="1009.0" width="33" height="63" stroke-width="2"/>
<text class="m" transform="translate(1911,1057) rotate(-90)" x="-2.46" y="0" font-size="18.24" textLength="39.92" lengthAdjust="spacing">R64</text>
<rect x="1888.5" y="1100.5" width="34" height="65"/>
<rect x="1890.5" y="1102.5" width="30" height="61"/>
<text class="m" transform="translate(1911,1151) rotate(-90)" x="-2.96" y="0" font-size="18.24" textLength="42.92" lengthAdjust="spacing">R65</text>
<polyline points="1922.5,902.5 1933.5,911.5 1933.5,1154.5 1922.5,1160.5" stroke-width="1"/>
<line x1="1933" y1="1038.5" x2="1938" y2="1038.5" stroke-width="1"/>
<text class="s" transform="translate(1963,1072) rotate(-90)" x="-0.87" y="0" font-size="14.56" textLength="57.46" lengthAdjust="spacingAndGlyphs">4 x 1 kOm</text>
<rect x="1941.5" y="977.5" width="297" height="296"/>
<polygon points="1982.5,1016.5 2190.5,1016.5 2197.5,1023.5 2197.5,1232.5 1982.5,1232.5" stroke-width="3" shape-rendering="auto"/>
<line x1="2190.5" y1="985" x2="2190.5" y2="1017" stroke-width="3"/>
<rect x="2090.5" y="1055.5" width="70" height="30"/>
<rect x="2051.5" y="1164.5" width="69" height="29"/>
<text class="m" transform="translate(1999,1042)" x="-1.98" y="0" font-size="16.72" textLength="34.97" lengthAdjust="spacing">U13</text>
<text class="s" transform="translate(2095,1069) rotate(90)" x="-1.75" y="0" font-size="29.11" textLength="101.91" lengthAdjust="spacingAndGlyphs" font-weight="bold">ALTERA</text>
<text class="s" transform="translate(2068,1046) rotate(90)" x="-1.14" y="0" font-size="18.92" textLength="148.89" lengthAdjust="spacingAndGlyphs">EPM7064STC100-10</text>
<rect x="1895.5" y="1217.5" width="30" height="48"/>
<line x1="1895" y1="1232.5" x2="1926" y2="1232.5" stroke-width="2"/>
<line x1="1895" y1="1247.5" x2="1926" y2="1247.5" stroke-width="2"/>
<rect x="1927.5" y="1218.5" width="16" height="31"/>
<line x1="2250" y1="927.5" x2="2514" y2="927.5" stroke-width="1"/>
<line x1="2250" y1="929.5" x2="2514" y2="929.5" stroke-width="1"/>
<line x1="2250.5" y1="927" x2="2250.5" y2="1026" stroke-width="1"/>
<rect x="2464.5" y="929.5" width="30" height="68"/>
<text class="m" transform="translate(2294,968)" x="-1.17" y="0" font-size="16.72" textLength="10.03" lengthAdjust="spacing">2</text>
<text class="m" transform="translate(2294,999)" x="-1.17" y="0" font-size="16.72" textLength="10.03" lengthAdjust="spacing">1</text>
<text class="m" transform="translate(2359,985)" x="-2.23" y="0" font-size="16.72" textLength="36.47" lengthAdjust="spacing">JF1</text>
<text class="m" transform="translate(2467,968)" x="-1.81" y="0" font-size="16.72" textLength="22.62" lengthAdjust="spacing">10</text>
<text class="m" transform="translate(2471,998)" x="-1.06" y="0" font-size="15.20" textLength="9.12" lengthAdjust="spacing">9</text>
<line x1="2345" y1="1008.5" x2="2409" y2="1008.5" stroke-width="2"/>
<line x1="2345" y1="1071.5" x2="2409" y2="1071.5" stroke-width="2"/>
<line x1="2345.5" y1="1008" x2="2345.5" y2="1073" stroke-width="1"/>
<line x1="2407.5" y1="1008" x2="2407.5" y2="1073" stroke-width="2"/>
<line x1="2376.5" y1="1008" x2="2376.5" y2="1073" stroke-width="1"/>
<line x1="2378.5" y1="1008" x2="2378.5" y2="1073" stroke-width="1"/>
<line x1="2429" y1="1008.5" x2="2493" y2="1008.5" stroke-width="2"/>
<line x1="2429" y1="1071.5" x2="2493" y2="1071.5" stroke-width="2"/>
<line x1="2429.5" y1="1008" x2="2429.5" y2="1073" stroke-width="2"/>
<line x1="2490.5" y1="1008" x2="2490.5" y2="1073" stroke-width="1"/>
<line x1="2492.5" y1="1008" x2="2492.5" y2="1073" stroke-width="1"/>
<line x1="2459.5" y1="1008" x2="2459.5" y2="1073" stroke-width="1"/>
<line x1="2461.5" y1="1008" x2="2461.5" y2="1073" stroke-width="1"/>
<line x1="2320" y1="1026.5" x2="2356" y2="1026.5" stroke-width="1"/>
<line x1="2320" y1="1028.5" x2="2356" y2="1028.5" stroke-width="1"/>
<line x1="2369" y1="1026.5" x2="2386" y2="1026.5" stroke-width="1"/>
<line x1="2369" y1="1028.5" x2="2386" y2="1028.5" stroke-width="1"/>
<line x1="2402" y1="1026.5" x2="2439" y2="1026.5" stroke-width="1"/>
<line x1="2402" y1="1028.5" x2="2439" y2="1028.5" stroke-width="1"/>
<line x1="2452" y1="1026.5" x2="2469" y2="1026.5" stroke-width="1"/>
<line x1="2452" y1="1028.5" x2="2469" y2="1028.5" stroke-width="1"/>
<line x1="2484" y1="1026.5" x2="2514" y2="1026.5" stroke-width="1"/>
<line x1="2484" y1="1028.5" x2="2514" y2="1028.5" stroke-width="1"/>
<line x1="2369" y1="1023.5" x2="2386" y2="1023.5" stroke-width="1"/>
<line x1="2340" y1="1027.5" x2="2354" y2="1027.5" stroke-width="3"/>
<line x1="2440.5" y1="1016" x2="2440.5" y2="1060" stroke-dasharray="8,5" stroke-width="1.5"/>
<rect x="2250.5" y="1025.5" width="70" height="30"/>
<line x1="2250" y1="1027.5" x2="2321" y2="1027.5" stroke-width="1"/>
<text class="s" transform="translate(2259,1046)" x="-0.96" y="0" font-size="16.01" textLength="34.60" lengthAdjust="spacingAndGlyphs">22 pF</text>
<text class="m" transform="translate(2249,1074)" x="-0.88" y="0" font-size="17.65" textLength="19.76" lengthAdjust="spacing">C6</text>
<rect x="2298.5" y="1040.5" width="46" height="125"/>
<line x1="2298" y1="1163.5" x2="2345" y2="1163.5" stroke-width="1"/>
<rect x="2273.5" y="1069.5" width="34" height="64"/>
<rect x="2275.5" y="1071.5" width="30" height="60"/>
<text class="s" transform="translate(2292,1126) rotate(-90)" x="-0.96" y="0" font-size="16.01" textLength="46.60" lengthAdjust="spacingAndGlyphs">910 Om</text>
<text class="m" transform="translate(2267,1125) rotate(-90)" x="-2.21" y="0" font-size="18.24" textLength="38.42" lengthAdjust="spacing">R82</text>
<text class="s" transform="translate(2333,1125) rotate(-90)" x="-0.96" y="0" font-size="16.01" textLength="43.60" lengthAdjust="spacingAndGlyphs">14 MHz</text>
<text class="m" transform="translate(2333,1156) rotate(-90)" x="-1.31" y="0" font-size="16.72" textLength="20.62" lengthAdjust="spacing">Y1</text>
<text class="m" transform="translate(2250,1147)" x="-0.88" y="0" font-size="17.65" textLength="19.76" lengthAdjust="spacing">C7</text>
<rect x="2250.5" y="1150.5" width="70" height="27"/>
<line x1="2250" y1="1175.5" x2="2321" y2="1175.5" stroke-width="1"/>
<text class="s" transform="translate(2258,1170)" x="-0.96" y="0" font-size="16.01" textLength="33.60" lengthAdjust="spacingAndGlyphs">22 pF</text>
<rect x="2260.0" y="1179.0" width="60" height="62" stroke-width="2"/>
<line x1="2290.5" y1="1178" x2="2290.5" y2="1242" stroke-width="1"/>
<text class="s" transform="translate(2278,1229) rotate(-90)" x="-0.87" y="0" font-size="14.56" textLength="38.46" lengthAdjust="spacingAndGlyphs">1 kOm</text>
<text class="s" transform="translate(2309,1232) rotate(-90)" x="-0.96" y="0" font-size="16.01" textLength="44.60" lengthAdjust="spacingAndGlyphs">150 Om</text>
<text class="m" transform="translate(2255,1233) rotate(-90)" x="-1.68" y="0" font-size="19.76" textLength="37.37" lengthAdjust="spacing">R78</text>
<text class="m" transform="translate(2336,1227) rotate(-90)" x="-2.21" y="0" font-size="18.24" textLength="38.42" lengthAdjust="spacing">R76</text>
<rect x="2350.5" y="1178.5" width="64" height="63"/>
<line x1="2352.5" y1="1178" x2="2352.5" y2="1242" stroke-width="1"/>
<line x1="2381.5" y1="1178" x2="2381.5" y2="1242" stroke-width="1"/>
<line x1="2383.5" y1="1178" x2="2383.5" y2="1242" stroke-width="1"/>
<text class="s" transform="translate(2372,1231) rotate(-90)" x="-0.87" y="0" font-size="14.56" textLength="45.46" lengthAdjust="spacingAndGlyphs">300 Om</text>
<text class="s" transform="translate(2402,1233) rotate(-90)" x="-0.87" y="0" font-size="14.56" textLength="45.46" lengthAdjust="spacingAndGlyphs">300 Om</text>
<text class="m" transform="translate(2373,1174) rotate(-90)" x="-2.48" y="0" font-size="16.72" textLength="37.97" lengthAdjust="spacing">R79</text>
<text class="m" transform="translate(2404,1172) rotate(-90)" x="-2.21" y="0" font-size="18.24" textLength="38.42" lengthAdjust="spacing">R80</text>
<text class="m" transform="translate(2460,1177) rotate(-90)" x="-3.01" y="0" font-size="15.20" textLength="39.01" lengthAdjust="spacing">R81</text>
<rect x="2442.5" y="1178.5" width="64" height="63"/>
<line x1="2444.5" y1="1178" x2="2444.5" y2="1242" stroke-width="1"/>
<line x1="2474.5" y1="1178" x2="2474.5" y2="1242" stroke-width="1"/>
<line x1="2476.5" y1="1178" x2="2476.5" y2="1242" stroke-width="1"/>
<text class="s" transform="translate(2464,1232) rotate(-90)" x="-0.87" y="0" font-size="14.56" textLength="45.46" lengthAdjust="spacingAndGlyphs">300 Om</text>
<text class="m" transform="translate(2496,1232) rotate(-90)" x="-2.76" y="0" font-size="15.20" textLength="37.51" lengthAdjust="spacing">J15</text>
<rect x="2259.0" y="1242.0" width="247" height="29" stroke-width="2"/>
<line x1="2320.5" y1="1241" x2="2320.5" y2="1272" stroke-width="2"/>
<line x1="2381.5" y1="1241" x2="2381.5" y2="1272" stroke-width="1"/>
<line x1="2383.5" y1="1241" x2="2383.5" y2="1272" stroke-width="1"/>
<line x1="2443.5" y1="1241" x2="2443.5" y2="1272" stroke-width="1"/>
<line x1="2445.5" y1="1241" x2="2445.5" y2="1272" stroke-width="1"/>
<text class="m" transform="translate(2269,1262)" x="-2.81" y="0" font-size="16.72" textLength="26.62" lengthAdjust="spacing">J2</text>
<text class="m" transform="translate(2343,1259)" x="-6.31" y="0" font-size="16.72" textLength="40.62" lengthAdjust="spacing">J3</text>
<text class="m" transform="translate(2400,1262)" x="-2.31" y="0" font-size="16.72" textLength="24.62" lengthAdjust="spacing">J4</text>
<text class="m" transform="translate(2460,1262)" x="-2.11" y="0" font-size="18.24" textLength="25.22" lengthAdjust="spacing">J5</text>
<circle cx="2420" cy="1065" r="3" stroke-width="2"/><circle cx="2428" cy="1190" r="3" stroke-width="2"/>
<line x1="2420.5" y1="1065.5" x2="2428.5" y2="1190.5" stroke-width="2"/>
<line x1="2424.5" y1="1124.5" x2="2525.5" y2="1161.5" stroke-width="2"/>
<line x1="2424.5" y1="1124.5" x2="2447.5" y2="1125.5" stroke-width="1"/>
<line x1="2424.5" y1="1124.5" x2="2438.5" y2="1140.5" stroke-width="1"/>
<line x1="1619" y1="1297.5" x2="2345" y2="1297.5" stroke-width="2"/>
<line x1="1619.5" y1="1297" x2="1619.5" y2="1400" stroke-width="2"/>
<line x1="1619" y1="1399.5" x2="2345" y2="1399.5" stroke-width="1"/>
<text class="m" transform="translate(1732,1355)" x="-1.31" y="0" font-size="16.72" textLength="20.62" lengthAdjust="spacing">X6</text>
<text class="m" transform="translate(1664,1369)" x="-1.17" y="0" font-size="16.72" textLength="10.03" lengthAdjust="spacing">1</text>
<line x1="1619" y1="1421.5" x2="2345" y2="1421.5" stroke-width="1"/>
<line x1="1619" y1="1423.5" x2="2345" y2="1423.5" stroke-width="1"/>
<line x1="1619.5" y1="1421" x2="1619.5" y2="1524" stroke-width="2"/>
<line x1="1619" y1="1522.5" x2="2345" y2="1522.5" stroke-width="1"/>
<line x1="1619" y1="1524.5" x2="2345" y2="1524.5" stroke-width="1"/>
<text class="m" transform="translate(1725,1470)" x="-1.31" y="0" font-size="16.72" textLength="20.62" lengthAdjust="spacing">X9</text>
<text class="m" transform="translate(1664,1493)" x="-1.28" y="0" font-size="18.24" textLength="10.94" lengthAdjust="spacing">1</text>
<line x1="2344.5" y1="1297" x2="2344.5" y2="1400" stroke-width="1"/>
<line x1="2344.5" y1="1421" x2="2344.5" y2="1523" stroke-width="1"/>
<rect x="2322.0" y="1301.0" width="31" height="249" stroke-width="2"/>
<line x1="2323.5" y1="1300" x2="2323.5" y2="1551" stroke-width="1"/>
<line x1="2321" y1="1364.5" x2="2354" y2="1364.5" stroke-width="1"/>
<line x1="2321" y1="1366.5" x2="2354" y2="1366.5" stroke-width="1"/>
<line x1="2321" y1="1422.5" x2="2354" y2="1422.5" stroke-width="1"/>
<line x1="2321" y1="1424.5" x2="2354" y2="1424.5" stroke-width="1"/>
<line x1="2321" y1="1488.5" x2="2354" y2="1488.5" stroke-width="1"/>
<line x1="2321" y1="1490.5" x2="2354" y2="1490.5" stroke-width="1"/>
<text class="m" transform="translate(2339,1351) rotate(-90)" x="-2.46" y="0" font-size="18.24" textLength="39.92" lengthAdjust="spacing">R31</text>
<text class="m" transform="translate(2339,1411) rotate(-90)" x="-2.46" y="0" font-size="18.24" textLength="39.92" lengthAdjust="spacing">R30</text>
<text class="m" transform="translate(2339,1473) rotate(-90)" x="-1.91" y="0" font-size="18.24" textLength="48.81" lengthAdjust="spacing">R174</text>
<text class="m" transform="translate(2339,1543) rotate(-90)" x="-2.07" y="0" font-size="18.24" textLength="50.15" lengthAdjust="spacing">R173</text>
<text class="s" transform="translate(2374,1474) rotate(-90)" x="-0.87" y="0" font-size="14.56" textLength="64.46" lengthAdjust="spacingAndGlyphs">4 x 150 Om</text>
<text class="s" transform="translate(2025,1385)" x="-1.05" y="0" font-size="17.47" textLength="64.75" lengthAdjust="spacingAndGlyphs">2 x 150 Om</text>
<line x1="1950" y1="1394.5" x2="1997" y2="1394.5" stroke-width="1"/>
<rect x="1997.0" y="1394.0" width="125" height="32" stroke-width="2"/>
<line x1="2058.5" y1="1393" x2="2058.5" y2="1427" stroke-width="1"/>
<line x1="2060.5" y1="1393" x2="2060.5" y2="1427" stroke-width="1"/>
<line x1="2120.5" y1="1395" x2="2120.5" y2="1425" stroke-width="1"/>
<text class="m" transform="translate(2018,1413)" x="-1.68" y="0" font-size="19.76" textLength="37.37" lengthAdjust="spacing">R27</text>
<text class="m" transform="translate(2072,1413)" x="-1.68" y="0" font-size="19.76" textLength="37.37" lengthAdjust="spacing">R28</text>
<text class="s" transform="translate(2028,1517)" x="-1.05" y="0" font-size="17.47" textLength="63.75" lengthAdjust="spacingAndGlyphs">2 x 150 Om</text>
<line x1="1950" y1="1517.5" x2="2013" y2="1517.5" stroke-width="1"/>
<rect x="1997.0" y="1533.0" width="125" height="32" stroke-width="2"/>
<line x1="2058.5" y1="1532" x2="2058.5" y2="1566" stroke-width="1"/>
<line x1="2060.5" y1="1532" x2="2060.5" y2="1566" stroke-width="1"/>
<line x1="2120.5" y1="1534" x2="2120.5" y2="1564" stroke-width="1"/>
<text class="m" transform="translate(2011,1552)" x="-1.57" y="0" font-size="18.24" textLength="46.15" lengthAdjust="spacing">R171</text>
<text class="m" transform="translate(2072,1552)" x="-1.91" y="0" font-size="18.24" textLength="48.81" lengthAdjust="spacing">R172</text>
<line x1="1796" y1="1563.5" x2="1997" y2="1563.5" stroke-width="1"/>
<line x1="2051.5" y1="1565" x2="2051.5" y2="1588" stroke-width="1"/>
<rect x="2380.5" y="1308.5" width="126" height="327"/>
<rect x="2414.5" y="1308.5" width="61" height="325"/>
<rect x="2429.5" y="1570.5" width="30" height="69"/>
<line x1="2429" y1="1626.5" x2="2460" y2="1626.5" stroke-width="1"/>
<text class="s" transform="translate(2452,1495) rotate(-90)" x="-1.14" y="0" font-size="18.92" textLength="69.89" lengthAdjust="spacingAndGlyphs">К555АП6</text>
<text class="m" transform="translate(2453,1553) rotate(-90)" x="-1.96" y="0" font-size="18.24" textLength="36.92" lengthAdjust="spacing">U15</text>
<rect x="2412.5" y="1640.5" width="65" height="33"/>
<rect x="2414.5" y="1642.5" width="61" height="29"/>
<text class="s" transform="translate(2423,1663)" x="-0.96" y="0" font-size="16.01" textLength="47.60" lengthAdjust="spacingAndGlyphs">4.3 kOm</text>
<text class="m" transform="translate(2459,1690)" x="-1.57" y="0" font-size="18.24" textLength="46.15" lengthAdjust="spacing">R196</text>
<rect x="2383.5" y="1687.5" width="29" height="70"/>
<rect x="2414.5" y="1687.5" width="28" height="70"/>
<line x1="1796" y1="1595.5" x2="2052" y2="1595.5" stroke-width="1"/>
<line x1="1796" y1="1656.5" x2="2052" y2="1656.5" stroke-width="1"/>
<line x1="1796" y1="1689.5" x2="2052" y2="1689.5" stroke-width="1"/>
<line x1="2051.5" y1="1563" x2="2051.5" y2="1690" stroke-width="1"/>
<rect x="1796.5" y="1615.5" width="6" height="26"/>
<text class="m" transform="translate(1829,1629)" x="-2.37" y="0" font-size="16.72" textLength="49.75" lengthAdjust="spacing">DD19</text>
<text class="s" transform="translate(1902,1632)" x="-1.05" y="0" font-size="17.47" textLength="85.75" lengthAdjust="spacingAndGlyphs">КР1533ЛН1</text>
<rect x="2040.0" y="1588.0" width="101" height="355" stroke-width="2"/>
<line x1="2138.5" y1="1588" x2="2138.5" y2="1943" stroke-width="1"/>
<text class="m" transform="translate(2078,1636) rotate(-90)" x="-1.06" y="0" font-size="15.20" textLength="9.12" lengthAdjust="spacing">1</text>
<text class="m" transform="translate(2083,1753) rotate(90)" x="-2.51" y="0" font-size="15.20" textLength="24.02" lengthAdjust="spacing">ВХ</text>
<text class="m" transform="translate(2061,1754) rotate(-90)" x="-1.03" y="0" font-size="20.56" textLength="46.06" lengthAdjust="spacing">R109</text>
<text class="m" transform="translate(2031,1785)" x="-2.21" y="0" font-size="16.72" textLength="48.41" lengthAdjust="spacing">R185</text>
<text class="m" transform="translate(2056,1845) rotate(-90)" x="-1.44" y="0" font-size="19.76" textLength="47.88" lengthAdjust="spacing">R135</text>
<text class="m" transform="translate(2056,1912) rotate(-90)" x="-1.44" y="0" font-size="19.76" textLength="47.88" lengthAdjust="spacing">R156</text>
<line x1="2042.5" y1="1735" x2="2042.5" y2="1918" stroke-width="1"/>
<rect x="1965.5" y="1702.5" width="64" height="248"/>
<line x1="1965" y1="1764.5" x2="2030" y2="1764.5" stroke-width="2"/>
<line x1="1965" y1="1795.5" x2="2030" y2="1795.5" stroke-width="1"/>
<line x1="1965" y1="1856.5" x2="2030" y2="1856.5" stroke-width="2"/>
<line x1="1965" y1="1918.5" x2="2030" y2="1918.5" stroke-width="2"/>
<line x1="1996.5" y1="1702" x2="1996.5" y2="1765" stroke-width="1"/>
<line x1="1998.5" y1="1702" x2="1998.5" y2="1765" stroke-width="1"/>
<text class="s" transform="translate(1987,1755) rotate(-90)" x="-0.87" y="0" font-size="14.56" textLength="45.46" lengthAdjust="spacingAndGlyphs">150 Om</text>
<text class="s" transform="translate(2019,1757) rotate(-90)" x="-0.87" y="0" font-size="14.56" textLength="45.46" lengthAdjust="spacingAndGlyphs">150 Om</text>
<line x1="1996.5" y1="1795" x2="1996.5" y2="1857" stroke-width="1"/>
<line x1="1998.5" y1="1795" x2="1998.5" y2="1857" stroke-width="1"/>
<text class="s" transform="translate(1987,1847) rotate(-90)" x="-0.87" y="0" font-size="14.56" textLength="44.46" lengthAdjust="spacingAndGlyphs">150 Om</text>
<text class="s" transform="translate(2019,1849) rotate(-90)" x="-0.87" y="0" font-size="14.56" textLength="44.46" lengthAdjust="spacingAndGlyphs">150 Om</text>
<line x1="1996.5" y1="1856" x2="1996.5" y2="1919" stroke-width="1"/>
<line x1="1998.5" y1="1856" x2="1998.5" y2="1919" stroke-width="1"/>
<text class="s" transform="translate(1987,1909) rotate(-90)" x="-0.87" y="0" font-size="14.56" textLength="45.46" lengthAdjust="spacingAndGlyphs">150 Om</text>
<text class="s" transform="translate(2019,1911) rotate(-90)" x="-0.87" y="0" font-size="14.56" textLength="45.46" lengthAdjust="spacingAndGlyphs">150 Om</text>
<text class="s" transform="translate(1972,1785)" x="-0.87" y="0" font-size="14.56" textLength="48.46" lengthAdjust="spacingAndGlyphs">2.0 kOm</text>
<text class="s" transform="translate(1978,1942)" x="-0.96" y="0" font-size="16.01" textLength="38.60" lengthAdjust="spacingAndGlyphs">51Om</text>
<text class="m" transform="translate(1980,1968)" x="-2.96" y="0" font-size="18.24" textLength="42.92" lengthAdjust="spacing">R89</text>
<text class="m" transform="translate(1963,1756) rotate(-90)" x="-2.54" y="0" font-size="16.72" textLength="51.08" lengthAdjust="spacing">R103</text>
<text class="m" transform="translate(1963,1849) rotate(-90)" x="-2.21" y="0" font-size="16.72" textLength="48.41" lengthAdjust="spacing">R128</text>
<text class="m" transform="translate(1963,1911) rotate(-90)" x="-2.37" y="0" font-size="16.72" textLength="49.75" lengthAdjust="spacing">R151</text>
<rect x="1812.0" y="1718.0" width="31" height="63" stroke-width="2"/>
<text class="m" transform="translate(1831,1767) rotate(-90)" x="-2.46" y="0" font-size="18.24" textLength="39.92" lengthAdjust="spacing">R98</text>
<rect x="1812.0" y="1796.0" width="31" height="62" stroke-width="2"/>
<text class="m" transform="translate(1831,1845) rotate(-90)" x="-1.91" y="0" font-size="18.24" textLength="48.81" lengthAdjust="spacing">R119</text>
<rect x="1812.0" y="1873.0" width="31" height="61" stroke-width="2"/>
<text class="m" transform="translate(1831,1922) rotate(-90)" x="-2.41" y="0" font-size="18.24" textLength="52.81" lengthAdjust="spacing">R146</text>
<rect x="1847.5" y="1730.5" width="106" height="41"/>
<rect x="1850.5" y="1732.5" width="101" height="36"/>
<line x1="1847.5" y1="1771.5" x2="1850.5" y2="1768.5" stroke-width="1"/>
<text class="s" transform="translate(1864,1757)" x="-1.05" y="0" font-size="17.47" textLength="71.75" lengthAdjust="spacingAndGlyphs">КТ315Б,Г,Е</text>
<text class="m" transform="translate(1884,1788)" x="-1.96" y="0" font-size="18.24" textLength="36.92" lengthAdjust="spacing">VT6</text>
<rect x="1847.5" y="1807.5" width="106" height="42"/>
<rect x="1850.5" y="1809.5" width="101" height="37"/>
<line x1="1847.5" y1="1849.5" x2="1850.5" y2="1846.5" stroke-width="1"/>
<text class="s" transform="translate(1864,1834)" x="-1.05" y="0" font-size="17.47" textLength="71.75" lengthAdjust="spacingAndGlyphs">КТ315Б,Г,Е</text>
<text class="m" transform="translate(1884,1870)" x="-1.96" y="0" font-size="18.24" textLength="36.92" lengthAdjust="spacing">VT8</text>
<rect x="1847.5" y="1884.5" width="106" height="42"/>
<rect x="1850.5" y="1886.5" width="101" height="37"/>
<line x1="1847.5" y1="1926.5" x2="1850.5" y2="1923.5" stroke-width="1"/>
<text class="s" transform="translate(1864,1912)" x="-1.05" y="0" font-size="17.47" textLength="71.75" lengthAdjust="spacingAndGlyphs">КТ315Б,Г,Е</text>
<text class="m" transform="translate(1880,1944)" x="-1.57" y="0" font-size="18.24" textLength="46.15" lengthAdjust="spacing">VT11</text>
<text class="s" transform="translate(1822,2005) rotate(-90)" x="-0.96" y="0" font-size="16.01" textLength="57.60" lengthAdjust="spacingAndGlyphs">3 x 1 kOm</text>
<polyline points="1810.5,1762.5 1806.5,1764.5 1806.5,1955.5" stroke-width="1"/>
<polyline points="1829.5,1935.5 1826.5,1941.5 1810.5,1945.5 1806.5,1955.5" stroke-width="1"/>
<line x1="2133" y1="1536.5" x2="2262" y2="1536.5" stroke-width="1"/>
<line x1="2133.5" y1="1536" x2="2133.5" y2="1963" stroke-width="1"/>
<line x1="2261.5" y1="1536" x2="2261.5" y2="1685" stroke-width="1"/>
<line x1="2133" y1="1962.5" x2="2241" y2="1962.5" stroke-width="1"/>
<rect x="2167.5" y="1537.5" width="61" height="137"/>
<rect x="2181.5" y="1537.5" width="32" height="8"/>
<text class="s" transform="translate(2205,1648) rotate(-90)" x="-1.31" y="0" font-size="21.83" textLength="70.18" lengthAdjust="spacingAndGlyphs">TDA1543</text>
<line x1="2133" y1="1674.5" x2="2262" y2="1674.5" stroke-width="1"/>
<line x1="2133" y1="1684.5" x2="2262" y2="1684.5" stroke-width="1"/>
<line x1="2133" y1="1813.5" x2="2260" y2="1813.5" stroke-width="1"/>
<line x1="2133" y1="1823.5" x2="2260" y2="1823.5" stroke-width="1"/>
<rect x="2167.5" y="1676.5" width="61" height="8"/>
<rect x="2167.5" y="1815.5" width="61" height="8"/>
<rect x="2166.5" y="1686.5" width="63" height="31"/>
<line x1="2166" y1="1687.5" x2="2230" y2="1687.5" stroke-width="1"/>
<rect x="2166.5" y="1717.5" width="63" height="32"/>
<line x1="2166" y1="1718.5" x2="2230" y2="1718.5" stroke-width="1"/>
<rect x="2166.5" y="1779.5" width="63" height="33"/>
<line x1="2166" y1="1780.5" x2="2230" y2="1780.5" stroke-width="1"/>
<rect x="2166.5" y="1825.5" width="63" height="32"/>
<line x1="2166" y1="1826.5" x2="2230" y2="1826.5" stroke-width="1"/>
<rect x="2166.5" y="1857.5" width="63" height="31"/>
<line x1="2166" y1="1858.5" x2="2230" y2="1858.5" stroke-width="1"/>
<rect x="2166.5" y="1888.5" width="63" height="31"/>
<line x1="2166" y1="1889.5" x2="2230" y2="1889.5" stroke-width="1"/>
<rect x="2166.5" y="1919.5" width="63" height="31"/>
<line x1="2166" y1="1920.5" x2="2230" y2="1920.5" stroke-width="1"/>
<rect x="2167.5" y="1950.5" width="61" height="10"/>
<rect x="2229.5" y="1749.5" width="7" height="30"/>
<rect x="2229.5" y="1858.5" width="7" height="29"/>
<text class="m" transform="translate(2245,1762) rotate(-90)" x="-2.21" y="0" font-size="18.24" textLength="38.42" lengthAdjust="spacing">U18</text>
<text class="m" transform="translate(2245,1883) rotate(-90)" x="-1.46" y="0" font-size="18.24" textLength="33.92" lengthAdjust="spacing">U17</text>
<rect x="2269.5" y="1632.5" width="104" height="266"/>
<rect x="2271.5" y="1634.5" width="100" height="262"/>
<line x1="2259.5" y1="1717" x2="2259.5" y2="1843" stroke-width="3"/>
<line x1="2290.5" y1="1723" x2="2290.5" y2="1843" stroke-width="1"/>
<line x1="2259" y1="1717.5" x2="2273" y2="1717.5" stroke-width="1"/>
<line x1="2259" y1="1780.5" x2="2291" y2="1780.5" stroke-width="2"/>
<line x1="2259" y1="1842.5" x2="2291" y2="1842.5" stroke-width="1"/>
<rect x="2259.5" y="1846.5" width="32" height="65"/>
<line x1="2261.5" y1="1848" x2="2261.5" y2="1910" stroke-width="1"/>
<line x1="2366.5" y1="1734" x2="2366.5" y2="1798" stroke-width="1"/>
<line x1="2370.5" y1="1665" x2="2370.5" y2="1897" stroke-width="1"/>
<text class="m" transform="translate(2338,1796) rotate(-90)" x="-1.61" y="0" font-size="18.24" textLength="23.22" lengthAdjust="spacing">X7</text>
<text class="m" transform="translate(2337,1853) rotate(-90)" x="-1.06" y="0" font-size="15.20" textLength="9.12" lengthAdjust="spacing">1</text>
<polyline points="2275.5,1911.5 2275.5,1933.5 2345.5,1933.5 2345.5,1904.5 2291.5,1904.5" stroke-width="1"/>
<line x1="2259.5" y1="1913" x2="2259.5" y2="1940" stroke-width="1"/>
<line x1="2249" y1="1939.5" x2="2268" y2="1939.5" stroke-width="2"/>
<text class="s" transform="translate(2153,1995)" x="-1.22" y="0" font-size="20.38" textLength="110.04" lengthAdjust="spacingAndGlyphs">2 x 140УД1208</text>
<rect x="1285.5" y="514.5" width="65" height="249"/>
<line x1="1287.5" y1="514" x2="1287.5" y2="764" stroke-width="1"/>
<line x1="1348.5" y1="514" x2="1348.5" y2="764" stroke-width="1"/>
<line x1="1285" y1="545.5" x2="1351" y2="545.5" stroke-width="2"/>
<line x1="1285" y1="547.5" x2="1351" y2="547.5" stroke-width="1"/>
<line x1="1285" y1="576.5" x2="1351" y2="576.5" stroke-width="1"/>
<line x1="1285" y1="578.5" x2="1351" y2="578.5" stroke-width="1"/>
<line x1="1285" y1="608.5" x2="1351" y2="608.5" stroke-width="2"/>
<line x1="1285" y1="610.5" x2="1351" y2="610.5" stroke-width="1"/>
<line x1="1285" y1="639.5" x2="1351" y2="639.5" stroke-width="1"/>
<line x1="1285" y1="641.5" x2="1351" y2="641.5" stroke-width="1"/>
<line x1="1285" y1="669.5" x2="1351" y2="669.5" stroke-width="2"/>
<line x1="1285" y1="671.5" x2="1351" y2="671.5" stroke-width="1"/>
<line x1="1285" y1="700.5" x2="1351" y2="700.5" stroke-width="1"/>
<line x1="1285" y1="702.5" x2="1351" y2="702.5" stroke-width="1"/>
<line x1="1285" y1="731.5" x2="1351" y2="731.5" stroke-width="2"/>
<line x1="1285" y1="733.5" x2="1351" y2="733.5" stroke-width="1"/>
<text class="s" transform="translate(1292,534)" x="-0.79" y="0" font-size="13.10" textLength="47.31" lengthAdjust="spacingAndGlyphs">2.0 kOm</text>
<text class="m" transform="translate(1301,563)" x="-2.48" y="0" font-size="16.72" textLength="37.97" lengthAdjust="spacing">R67</text>
<text class="m" transform="translate(1301,595)" x="-2.48" y="0" font-size="16.72" textLength="37.97" lengthAdjust="spacing">R66</text>
<text class="m" transform="translate(1301,625)" x="-2.48" y="0" font-size="16.72" textLength="37.97" lengthAdjust="spacing">R71</text>
<text class="m" transform="translate(1301,657)" x="-2.48" y="0" font-size="16.72" textLength="37.97" lengthAdjust="spacing">R69</text>
<text class="m" transform="translate(1301,687)" x="-2.48" y="0" font-size="16.72" textLength="37.97" lengthAdjust="spacing">R70</text>
<text class="m" transform="translate(1301,719)" x="-2.48" y="0" font-size="16.72" textLength="37.97" lengthAdjust="spacing">R68</text>
<text class="s" transform="translate(1292,752)" x="-0.87" y="0" font-size="14.56" textLength="47.46" lengthAdjust="spacingAndGlyphs">2.0 kOm</text>
<text class="m" transform="translate(1362,536)" x="-3.01" y="0" font-size="15.20" textLength="39.01" lengthAdjust="spacing">R72</text>
<text class="m" transform="translate(1362,750)" x="-2.48" y="0" font-size="16.72" textLength="37.97" lengthAdjust="spacing">R74</text>
<polyline points="1362.5,560.5 1367.5,561.5 1367.5,710.5 1359.5,715.5" stroke-width="1"/>
<polyline points="1367.5,642.5 1373.5,642.5 1367.5,648.5" stroke-width="1"/>
<text class="s" transform="translate(1389,683) rotate(-90)" x="-0.87" y="0" font-size="14.56" textLength="63.46" lengthAdjust="spacingAndGlyphs">6 x 510 Om</text>
<rect x="1273.0" y="763.0" width="61" height="62" stroke-width="2"/>
<line x1="1272" y1="793.5" x2="1335" y2="793.5" stroke-width="2"/>
<text class="s" transform="translate(1284,783)" x="-0.87" y="0" font-size="14.56" textLength="44.46" lengthAdjust="spacingAndGlyphs">510 Om</text>
<text class="s" transform="translate(1277,812)" x="-0.87" y="0" font-size="14.56" textLength="47.46" lengthAdjust="spacingAndGlyphs">2.0 kOm</text>
<text class="m" transform="translate(1365,784)" x="-2.73" y="0" font-size="16.72" textLength="39.47" lengthAdjust="spacing">R75</text>
<text class="m" transform="translate(1366,815)" x="-2.48" y="0" font-size="16.72" textLength="37.97" lengthAdjust="spacing">R73</text>
<text class="s" transform="translate(1266,1062)" x="-0.87" y="0" font-size="14.56" textLength="44.46" lengthAdjust="spacingAndGlyphs">150 Om</text>
<rect x="1256.0" y="1070.0" width="64" height="33" stroke-width="2"/>
<line x1="1257" y1="1071.5" x2="1319" y2="1071.5" stroke-width="1"/>
<text class="m" transform="translate(1274,1092)" x="-2.73" y="0" font-size="16.72" textLength="39.47" lengthAdjust="spacing">R77</text>
<line x1="1697.5" y1="804" x2="1697.5" y2="811" stroke-width="2"/>
<line x1="1693.5" y1="867" x2="1693.5" y2="874" stroke-width="2"/>
<line x1="1692.5" y1="898" x2="1692.5" y2="905" stroke-width="2"/>
<line x1="1690.5" y1="929" x2="1690.5" y2="936" stroke-width="2"/>
<line x1="1686.5" y1="990" x2="1686.5" y2="997" stroke-width="2"/>
<line x1="1685.5" y1="1022" x2="1685.5" y2="1029" stroke-width="2"/>
<line x1="1683.5" y1="1052" x2="1683.5" y2="1059" stroke-width="2"/>
<line x1="1679.5" y1="1114" x2="1679.5" y2="1121" stroke-width="2"/>
<line x1="1677.5" y1="1145" x2="1677.5" y2="1152" stroke-width="2"/>
<line x1="1676.5" y1="1175" x2="1676.5" y2="1182" stroke-width="2"/>
<line x1="1667.5" y1="1235" x2="1667.5" y2="1242" stroke-width="2"/>
<line x1="1699.5" y1="775" x2="1699.5" y2="782" stroke-width="2"/>
<line x1="1697.5" y1="805" x2="1697.5" y2="812" stroke-width="2"/>
<rect x="1711" y="544" width="3" height="3" fill="#000" stroke="none"/>
<rect x="1709" y="576" width="3" height="3" fill="#000" stroke="none"/>
<rect x="1709" y="590" width="3" height="3" fill="#000" stroke="none"/>
<rect x="1708" y="622" width="3" height="3" fill="#000" stroke="none"/>
<rect x="1703" y="685" width="3" height="3" fill="#000" stroke="none"/>
<rect x="1701" y="716" width="3" height="3" fill="#000" stroke="none"/>
<rect x="1701" y="730" width="3" height="3" fill="#000" stroke="none"/>
<rect x="1675" y="1260" width="3" height="3" fill="#000" stroke="none"/>
<polyline points="1649.5,899.5 1653.5,899.5 1656.5,902.5 1660.5,903.5" stroke-width="2"/>
<line x1="1611.5" y1="889.5" x2="1620.5" y2="888.5" stroke-width="2"/>
<line x1="1621" y1="1130.5" x2="1625" y2="1130.5" stroke-width="2"/>
<line x1="1463" y1="921.5" x2="1468" y2="921.5" stroke-width="2"/>
<line x1="1484" y1="916.5" x2="1489" y2="916.5" stroke-width="2"/>
<line x1="1517" y1="910.5" x2="1522" y2="910.5" stroke-width="2"/>
<line x1="1579" y1="896.5" x2="1584" y2="896.5" stroke-width="2"/>
<line x1="1575.5" y1="1150" x2="1575.5" y2="1157" stroke-width="2"/>
<rect x="1301" y="1220" width="2" height="2" fill="#000" stroke="none"/>
<polyline points="1701.5,1035.5 1705.5,1040.5" stroke-width="2"/>
<polyline points="1787.5,1537.5 1787.5,1547.5" stroke-width="1"/>
</g></svg></body></html>
